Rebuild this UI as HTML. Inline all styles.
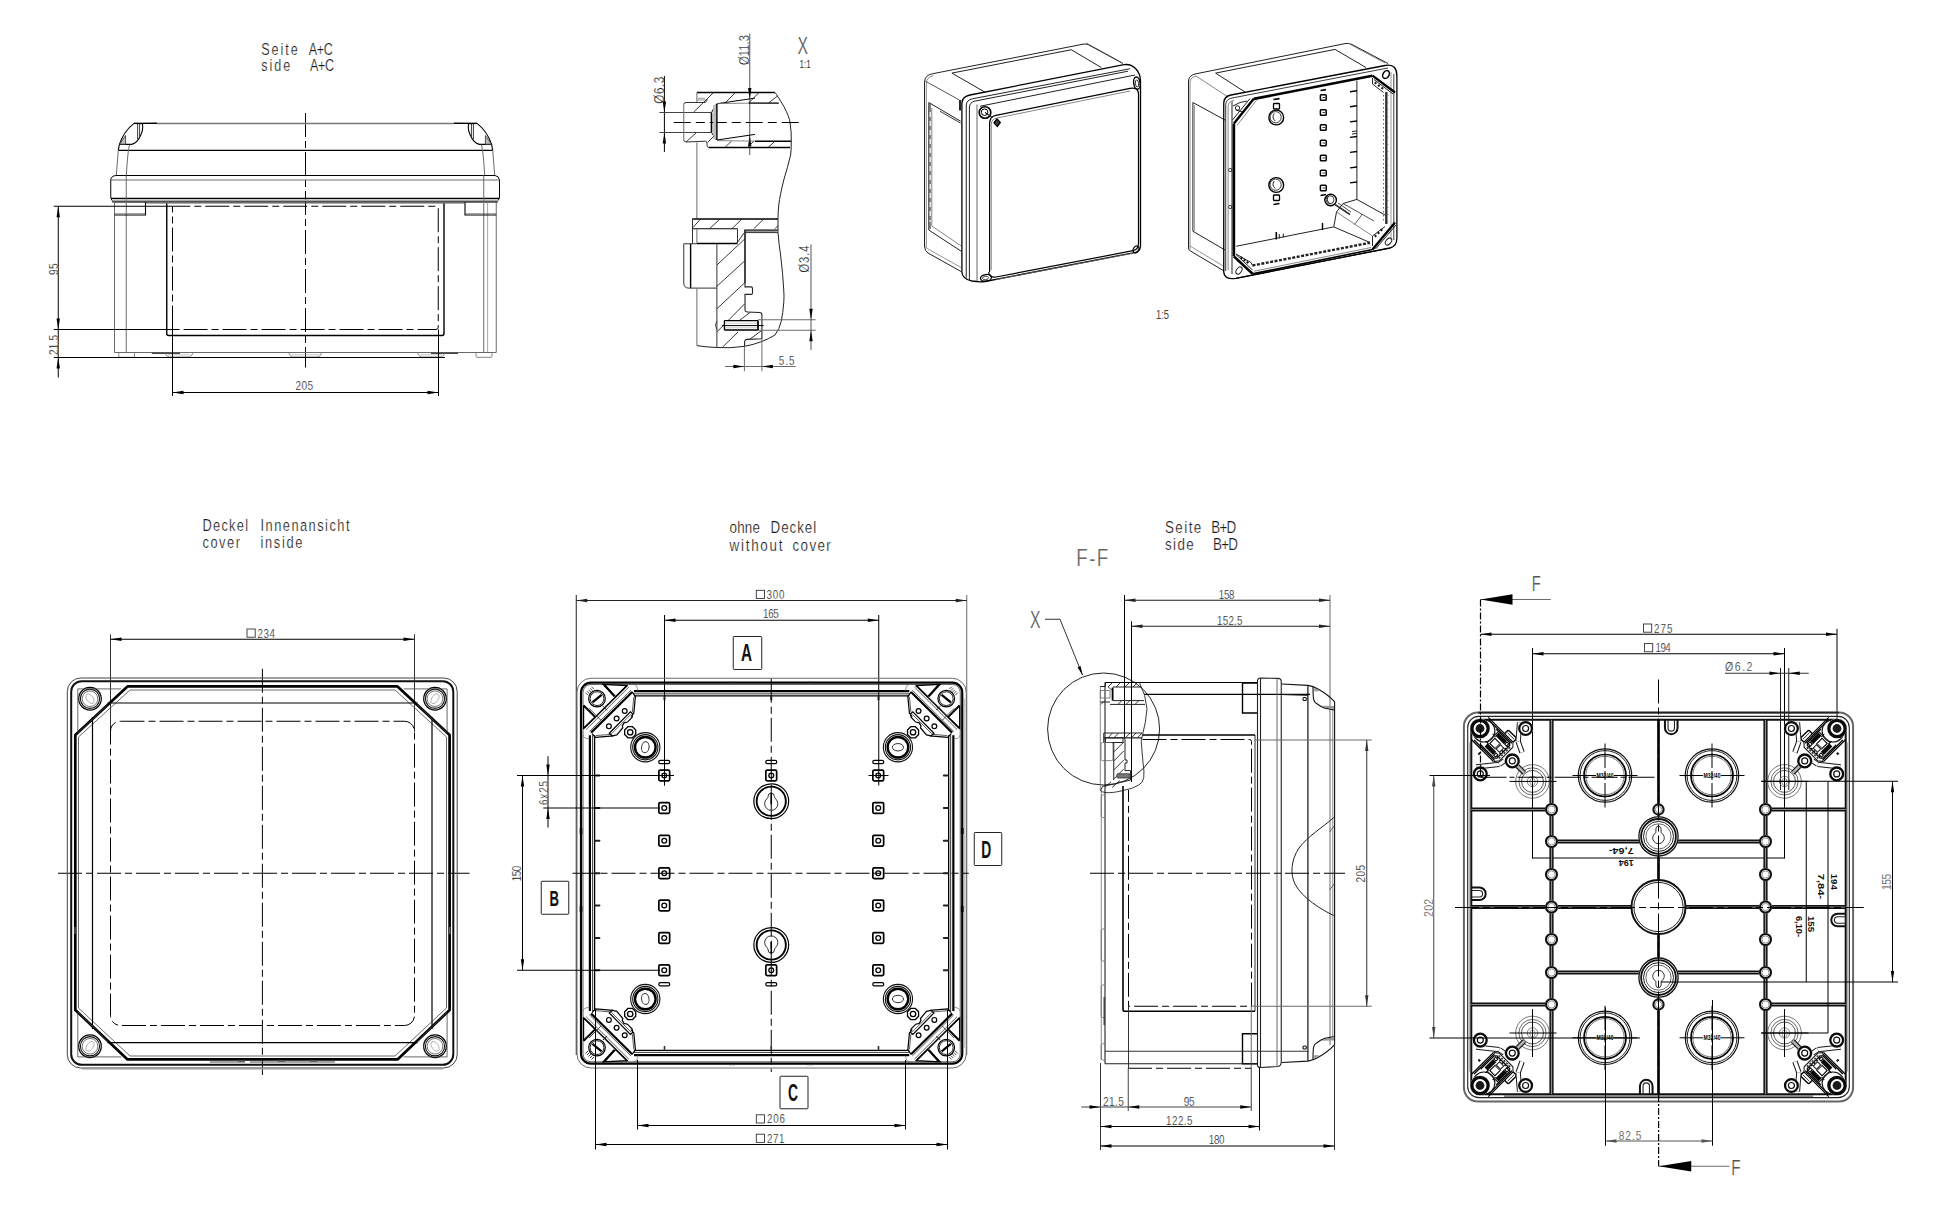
<!DOCTYPE html>
<html><head><meta charset="utf-8"><title>Drawing</title>
<style>
html,body{margin:0;padding:0;background:#fff;}
body{width:1960px;height:1232px;overflow:hidden;}
svg{display:block;font-family:"Liberation Sans","DejaVu Sans",sans-serif;}
</style></head><body>
<svg width="1960" height="1232" viewBox="0 0 1960 1232" fill="none">
<!-- view1 -->
<text transform="translate(261.25 55) scale(0.8 1)" font-size="15.71" textLength="45.62" lengthAdjust="spacing" stroke="#fff" stroke-width="0.22" fill="#1a1a1a">Seite</text>
<text transform="translate(308.75 55) scale(0.8 1)" font-size="15.71" textLength="30" lengthAdjust="spacing" stroke="#fff" stroke-width="0.22" fill="#1a1a1a">A+C</text>
<text transform="translate(261.25 71.25) scale(0.8 1)" font-size="15.71" textLength="36.25" lengthAdjust="spacing" stroke="#fff" stroke-width="0.22" fill="#1a1a1a">side</text>
<text transform="translate(310 71.25) scale(0.8 1)" font-size="15.71" textLength="30" lengthAdjust="spacing" stroke="#fff" stroke-width="0.22" fill="#1a1a1a">A+C</text>
<line x1="305.5" y1="113" x2="305.5" y2="367.5" stroke="#000" stroke-width="1" stroke-dasharray="24 4 7 4"/>
<path d="M118.3,150.4 L119.4,144.4 Q124,131 134,123.4" stroke="#000" stroke-width="1.1" fill="none"/>
<path d="M492.7,150.4 L491.6,144.4 Q487,131 477,123.4" stroke="#000" stroke-width="1.1" fill="none"/>
<line x1="134" y1="123.4" x2="157" y2="123.2" stroke="#000" stroke-width="1.4"/>
<line x1="477" y1="123.4" x2="454" y2="123.2" stroke="#000" stroke-width="1.4"/>
<line x1="157" y1="123.4" x2="454" y2="123.4" stroke="#777" stroke-width="1.5"/>
<path d="M134,123.4 L142.5,123.8 Q143.3,130 141,134.5 Q137.5,143 131.6,144.4 L119.4,144.4" stroke="#000" stroke-width="1.1" fill="none"/>
<line x1="137.6" y1="124" x2="137.6" y2="139" stroke="#222" stroke-width="0.9"/>
<line x1="139.6" y1="124" x2="139.6" y2="136.5" stroke="#222" stroke-width="0.9"/>
<path d="M119.6,144.2 L125.6,135.5 L125.6,144.2Z" stroke="#333" stroke-width="0.8" fill="#bbb"/>
<path d="M477,123.4 L468.5,123.8 Q467.7,130 470,134.5 Q473.5,143 479.4,144.4 L491.6,144.4" stroke="#000" stroke-width="1.1" fill="none"/>
<line x1="473.4" y1="124" x2="473.4" y2="139" stroke="#222" stroke-width="0.9"/>
<line x1="471.4" y1="124" x2="471.4" y2="136.5" stroke="#222" stroke-width="0.9"/>
<path d="M491.4,144.2 L485.4,135.5 L485.4,144.2Z" stroke="#333" stroke-width="0.8" fill="#bbb"/>
<line x1="118.3" y1="150.4" x2="492.7" y2="150.4" stroke="#000" stroke-width="1.4"/>
<line x1="118.3" y1="150" x2="116.3" y2="175.5" stroke="#6a6a6a" stroke-width="1"/>
<line x1="492.7" y1="150" x2="494.7" y2="175.5" stroke="#6a6a6a" stroke-width="1"/>
<path d="M129.6,144.6 Q127.8,150 126.3,175.5" stroke="#6a6a6a" stroke-width="1" fill="none"/>
<path d="M481.4,144.6 Q483.2,150 484.7,175.5" stroke="#6a6a6a" stroke-width="1" fill="none"/>
<path d="M116,175.5 L495,175.5 Q499,176 499.5,180 L499.5,197 Q499,201 496,201.75 L114,201.75 Q111,201 110.75,197 L110.75,180 Q111,176 116,175.5 Z" stroke="#000" stroke-width="1" fill="none"/>
<line x1="111" y1="180" x2="499.5" y2="180" stroke="#6a6a6a" stroke-width="1"/>
<line x1="111" y1="198.4" x2="499.5" y2="198.4" stroke="#000" stroke-width="1.4"/>
<rect x="112.5" y="199.4" width="385.5" height="2.2" stroke="none" stroke-width="0" fill="#aaa"/>
<line x1="112" y1="202" x2="498" y2="202" stroke="#222" stroke-width="1"/>
<line x1="114.5" y1="202" x2="114.5" y2="352.5" stroke="#6a6a6a" stroke-width="1"/>
<line x1="126.25" y1="175.5" x2="126.25" y2="352.5" stroke="#6a6a6a" stroke-width="1"/>
<line x1="496.25" y1="202" x2="496.25" y2="352.5" stroke="#6a6a6a" stroke-width="1"/>
<line x1="483.75" y1="175.5" x2="483.75" y2="352.5" stroke="#6a6a6a" stroke-width="1"/>
<line x1="487.6" y1="202" x2="487.6" y2="352.5" stroke="#6a6a6a" stroke-width="0.6"/>
<path d="M114.5,215 L145.5,215 L145.5,202" stroke="#000" stroke-width="1.1" fill="none"/>
<path d="M496.25,215 L465,215 L465,202" stroke="#000" stroke-width="1.1" fill="none"/>
<line x1="114.5" y1="213.5" x2="145.5" y2="213.5" stroke="#6a6a6a" stroke-width="0.6"/>
<line x1="465" y1="213.5" x2="496.25" y2="213.5" stroke="#6a6a6a" stroke-width="0.6"/>
<path d="M166.75,203 L166.75,333.5 Q166.75,335.5 168.75,335.5 L442,335.5 Q444,335.5 444,333.5 L444,203" stroke="#000" stroke-width="1.4" fill="none"/>
<line x1="145.5" y1="203.2" x2="465" y2="203.2" stroke="#6a6a6a" stroke-width="0.8"/>
<path d="M172.5,329.5 L172.5,206.25 L436,206.25 Q438.25,206.25 438.25,208.5 L438.25,327 Q438.25,329.5 436,329.5 L172.5,329.5" stroke="#000" stroke-width="1" fill="none" stroke-dasharray="24 4 7 4"/>
<line x1="114.5" y1="352.5" x2="496.25" y2="352.5" stroke="#6a6a6a" stroke-width="1"/>
<rect x="118.75" y="352.5" width="15.75" height="4.8" rx="1" ry="1" stroke="#6a6a6a" stroke-width="0.8" fill="none"/>
<rect x="476" y="352.5" width="16" height="4.8" rx="1" ry="1" stroke="#6a6a6a" stroke-width="0.8" fill="none"/>
<line x1="151.75" y1="353.3" x2="180" y2="353.3" stroke="#333" stroke-width="1.2"/>
<line x1="431" y1="353.3" x2="458" y2="353.3" stroke="#333" stroke-width="1.2"/>
<path d="M165,352.5 Q166,356.5 169,357 L189,357 Q192,356.5 193,352.5" stroke="#6a6a6a" stroke-width="0.8" fill="none"/>
<line x1="168" y1="354.8" x2="190" y2="354.8" stroke="#999" stroke-width="0.6"/>
<path d="M288.75,352.5 Q289.75,356.5 292.75,357 L317.75,357 Q320.75,356.5 321.75,352.5" stroke="#6a6a6a" stroke-width="0.8" fill="none"/>
<line x1="291.75" y1="354.8" x2="318.75" y2="354.8" stroke="#999" stroke-width="0.6"/>
<path d="M417.5,352.5 Q418.5,356.5 421.5,357 L441,357 Q444,356.5 445,352.5" stroke="#6a6a6a" stroke-width="0.8" fill="none"/>
<line x1="420.5" y1="354.8" x2="442" y2="354.8" stroke="#999" stroke-width="0.6"/>
<line x1="53.75" y1="206.25" x2="172.5" y2="206.25" stroke="#000" stroke-width="1"/>
<line x1="53.75" y1="329.5" x2="175" y2="329.5" stroke="#000" stroke-width="1"/>
<line x1="53.75" y1="357.5" x2="445" y2="357.5" stroke="#000" stroke-width="1"/>
<line x1="58.25" y1="206.25" x2="58.25" y2="329.5" stroke="#000" stroke-width="1"/>
<polygon points="58.25,206.25 59.95,217.25 56.55,217.25" fill="#000"/>
<polygon points="58.25,329.5 56.55,318.5 59.95,318.5" fill="#000"/>
<line x1="58.25" y1="329.5" x2="58.25" y2="377.5" stroke="#000" stroke-width="1"/>
<polygon points="58.25,357.5 59.95,368.5 56.55,368.5" fill="#000"/>
<text transform="translate(57.5 275) rotate(-90) scale(0.8 1)" font-size="12.57" textLength="14.38" lengthAdjust="spacing" stroke="#fff" stroke-width="0.22" fill="#1a1a1a">95</text>
<text transform="translate(57.5 355) rotate(-90) scale(0.8 1)" font-size="12.57" textLength="25" lengthAdjust="spacing" stroke="#fff" stroke-width="0.22" fill="#1a1a1a">21.5</text>
<line x1="172.5" y1="329.5" x2="172.5" y2="396" stroke="#000" stroke-width="1"/>
<line x1="438.5" y1="329.5" x2="438.5" y2="396" stroke="#000" stroke-width="1"/>
<line x1="172.5" y1="392.5" x2="438.5" y2="392.5" stroke="#000" stroke-width="1"/>
<polygon points="172.5,392.5 183.5,390.8 183.5,394.2" fill="#000"/>
<polygon points="438.5,392.5 427.5,394.2 427.5,390.8" fill="#000"/>
<text transform="translate(295.5 390) scale(0.8 1)" font-size="12.57" textLength="21.88" lengthAdjust="spacing" stroke="#fff" stroke-width="0.22" fill="#1a1a1a">205</text>
<!-- view2 -->
<text transform="translate(797.5 53.75)" font-size="23.39" textLength="10.5" lengthAdjust="spacingAndGlyphs" stroke="#fff" stroke-width="0.22" fill="#555">X</text>
<text transform="translate(799.5 68)" font-size="11.17" textLength="11.1" lengthAdjust="spacingAndGlyphs" fill="#333">1:1</text>
<text transform="translate(748.75 65) rotate(-90) scale(0.8 1)" font-size="13.97" textLength="37.5" lengthAdjust="spacing" stroke="#fff" stroke-width="0.22" fill="#222">Ø11.3</text>
<text transform="translate(663.75 103.75) rotate(-90) scale(0.8 1)" font-size="14.66" textLength="33.75" lengthAdjust="spacing" stroke="#fff" stroke-width="0.22" fill="#222">Ø6.3</text>
<text transform="translate(808.75 272.5) rotate(-90) scale(0.8 1)" font-size="13.97" textLength="33.75" lengthAdjust="spacing" stroke="#fff" stroke-width="0.22" fill="#222">Ø3.4</text>
<text transform="translate(778.75 365) scale(0.8 1)" font-size="12.22" textLength="19.62" lengthAdjust="spacing" stroke="#fff" stroke-width="0.22" fill="#222">5.5</text>
<line x1="749.75" y1="33.5" x2="749.75" y2="155" stroke="#555" stroke-width="1"/>
<polygon points="749.75,99 748.05,88 751.45,88" fill="#000"/>
<polygon points="749.75,135.3 751.45,146.3 748.05,146.3" fill="#000"/>
<line x1="664.4" y1="76" x2="664.4" y2="151.9" stroke="#000" stroke-width="1"/>
<polygon points="664.4,112.5 662.7,101.5 666.1,101.5" fill="#000"/>
<polygon points="664.4,132.5 666.1,143.5 662.7,143.5" fill="#000"/>
<line x1="659.4" y1="112.5" x2="711" y2="112.5" stroke="#444" stroke-width="1"/>
<line x1="659.4" y1="132.5" x2="711" y2="132.5" stroke="#444" stroke-width="1"/>
<line x1="673.75" y1="122.5" x2="801.25" y2="122.5" stroke="#000" stroke-width="1.1" stroke-dasharray="17 5 9 5"/>
<line x1="696.9" y1="92.5" x2="775" y2="92.5" stroke="#000" stroke-width="1.4"/>
<line x1="696.9" y1="92.5" x2="696.9" y2="102.5" stroke="#6a6a6a" stroke-width="1"/>
<line x1="697.5" y1="98.3" x2="705" y2="98.3" stroke="#6a6a6a" stroke-width="0.7"/>
<line x1="697.5" y1="100" x2="706" y2="100" stroke="#6a6a6a" stroke-width="0.7"/>
<path d="M683.75,104.5 Q683.75,102.6 686,102.5 L705.5,102.5 L707.5,99.5" stroke="#333" stroke-width="1" fill="none"/>
<line x1="683.75" y1="104.5" x2="683.75" y2="140" stroke="#6a6a6a" stroke-width="1"/>
<path d="M683.75,140 Q684,142 686,142 L705.5,141.2 Q707,141.3 707,143 L707,145.5 Q707.2,147.3 709,147.5" stroke="#333" stroke-width="1" fill="none"/>
<line x1="709" y1="147.5" x2="790" y2="147.5" stroke="#000" stroke-width="1.4"/>
<line x1="711.5" y1="112.5" x2="711.5" y2="132.5" stroke="#000" stroke-width="1.6"/>
<path d="M711.5,112.5 L716.5,104 M711.5,132.5 L716.5,140" stroke="#000" stroke-width="1" fill="none"/>
<rect x="713.2" y="105" width="3.7" height="34" stroke="none" stroke-width="0" fill="#bbb"/>
<line x1="716.9" y1="103.75" x2="716.9" y2="140" stroke="#000" stroke-width="1.4"/>
<line x1="716.9" y1="103.75" x2="755" y2="98.1" stroke="#000" stroke-width="1"/>
<line x1="716.9" y1="140" x2="755" y2="134.4" stroke="#000" stroke-width="1"/>
<line x1="716.9" y1="103.6" x2="748.75" y2="103.2" stroke="#6a6a6a" stroke-width="0.8"/>
<line x1="748.75" y1="103.1" x2="778.75" y2="103.1" stroke="#000" stroke-width="1.3"/>
<line x1="716.9" y1="140.6" x2="755" y2="141.1" stroke="#6a6a6a" stroke-width="0.8"/>
<line x1="755" y1="141.25" x2="791.25" y2="141.25" stroke="#000" stroke-width="1.3"/>
<line x1="693.75" y1="112" x2="713" y2="93" stroke="#222" stroke-width="0.9"/>
<line x1="725" y1="103" x2="735" y2="93" stroke="#222" stroke-width="0.9"/>
<line x1="748.75" y1="103" x2="758.5" y2="93" stroke="#222" stroke-width="0.9"/>
<line x1="768.5" y1="103" x2="777.5" y2="96" stroke="#222" stroke-width="0.9"/>
<line x1="686" y1="142" x2="696" y2="133" stroke="#222" stroke-width="0.9"/>
<line x1="707.5" y1="142.5" x2="713.75" y2="136.25" stroke="#222" stroke-width="0.9"/>
<line x1="725" y1="147.5" x2="731.25" y2="141.25" stroke="#222" stroke-width="0.9"/>
<line x1="747.5" y1="147.5" x2="753.75" y2="141.25" stroke="#222" stroke-width="0.9"/>
<line x1="768" y1="147.5" x2="775" y2="141.25" stroke="#222" stroke-width="0.9"/>
<path d="M775,92.5 Q777,95 783.75,106.25 Q789.5,117 790,122.5 Q791.6,132 791.25,141.25 Q791.3,150 790.6,155 Q787.5,168 783.75,180 Q780,195 778.75,205 Q778,212 778,218.75 L778,232.5 Q779,245 780.6,255 Q783,275 783.75,290 Q784.3,297 783.75,302.5 Q783,313 781.25,321.25 Q779.5,329 775,335 Q762,343 745,346.25 Q730,348.5 716.25,347.5 Q705,347 696.9,345.6" stroke="#222" stroke-width="1" fill="none"/>
<line x1="696.9" y1="142.5" x2="696.9" y2="218.75" stroke="#6a6a6a" stroke-width="1"/>
<line x1="692.25" y1="219" x2="778" y2="219" stroke="#000" stroke-width="1.4"/>
<line x1="692.5" y1="219" x2="692.5" y2="243.75" stroke="#333" stroke-width="1"/>
<line x1="692.5" y1="228.75" x2="737.5" y2="228.75" stroke="#000" stroke-width="1.2"/>
<path d="M696.9,228.75 L696.9,243.1" stroke="#6a6a6a" stroke-width="1" fill="none"/>
<line x1="737.5" y1="228.75" x2="737.5" y2="243.1" stroke="#333" stroke-width="1"/>
<line x1="696.9" y1="243.5" x2="737.5" y2="243.5" stroke="#000" stroke-width="1.4"/>
<rect x="744.4" y="230" width="33.6" height="2.5" stroke="none" stroke-width="0" fill="#999"/>
<line x1="744.4" y1="230" x2="778" y2="230" stroke="#000" stroke-width="1.2"/>
<line x1="744.4" y1="232.6" x2="778" y2="232.6" stroke="#333" stroke-width="1"/>
<line x1="745" y1="230" x2="745" y2="283" stroke="#333" stroke-width="1.8"/>
<line x1="683.75" y1="243.75" x2="696.9" y2="243.75" stroke="#333" stroke-width="1"/>
<path d="M683.75,243.75 L683.75,283 Q684,288 688.5,288.1 L716.9,288.1" stroke="#333" stroke-width="1" fill="none"/>
<line x1="690.6" y1="243.75" x2="690.6" y2="288.1" stroke="#000" stroke-width="1.4"/>
<line x1="716.9" y1="243.75" x2="716.9" y2="346.9" stroke="#333" stroke-width="1"/>
<line x1="696.9" y1="288.75" x2="696.9" y2="345.6" stroke="#6a6a6a" stroke-width="1"/>
<line x1="693" y1="227.5" x2="700" y2="219.5" stroke="#222" stroke-width="0.9"/>
<line x1="709.4" y1="228.75" x2="720" y2="219" stroke="#222" stroke-width="0.9"/>
<line x1="731.9" y1="228.75" x2="741.9" y2="219" stroke="#222" stroke-width="0.9"/>
<line x1="753.75" y1="228.75" x2="763.75" y2="219" stroke="#222" stroke-width="0.9"/>
<line x1="775" y1="228.75" x2="778" y2="225.6" stroke="#222" stroke-width="0.9"/>
<line x1="716.9" y1="265" x2="745" y2="238.75" stroke="#222" stroke-width="0.9"/>
<line x1="716.9" y1="286.25" x2="745" y2="260.6" stroke="#222" stroke-width="0.9"/>
<line x1="716.9" y1="308.75" x2="745" y2="282.5" stroke="#222" stroke-width="0.9"/>
<line x1="716.9" y1="331.9" x2="744.5" y2="304" stroke="#222" stroke-width="0.9"/>
<line x1="722.8" y1="346.9" x2="738" y2="332" stroke="#222" stroke-width="0.9"/>
<line x1="740" y1="320" x2="750" y2="312.5" stroke="#222" stroke-width="0.9"/>
<line x1="737" y1="243" x2="744" y2="233" stroke="#222" stroke-width="0.9"/>
<line x1="750" y1="339" x2="761" y2="331" stroke="#222" stroke-width="0.9"/>
<path d="M745,283 L745,286.9 L751,286.9 Q752.5,287 752.5,288.5 L752.5,293 Q752.5,294.4 751,294.4 L745,294.4 L745,310 Q745,311.9 747,312 L759.5,312.5 Q761.9,312.6 761.9,315 L761.9,338.75 L747,339.4 Q745,339.5 744.6,341.5 L744.6,346" stroke="#222" stroke-width="1.1" fill="none"/>
<rect x="724.4" y="320.6" width="33.7" height="9.4" rx="0.5" ry="0.5" stroke="#000" stroke-width="1.3" fill="#fff"/>
<line x1="725" y1="323.2" x2="757" y2="323.2" stroke="#999" stroke-width="0.5"/>
<line x1="725" y1="327.8" x2="757" y2="327.8" stroke="#999" stroke-width="0.5"/>
<line x1="721.9" y1="325.6" x2="763.75" y2="325.6" stroke="#000" stroke-width="1"/>
<line x1="758" y1="321" x2="758" y2="330" stroke="#000" stroke-width="1.4"/>
<path d="M716.9,321 Q714,325 716.9,329.5" stroke="#333" stroke-width="0.9" fill="none"/>
<line x1="811" y1="244.4" x2="811" y2="350" stroke="#555" stroke-width="1"/>
<line x1="758" y1="319.75" x2="815.6" y2="319.75" stroke="#6a6a6a" stroke-width="1"/>
<line x1="758" y1="330.25" x2="815.6" y2="330.25" stroke="#6a6a6a" stroke-width="1"/>
<polygon points="811,319.75 809.3,308.75 812.7,308.75" fill="#000"/>
<polygon points="811,330.25 812.7,341.25 809.3,341.25" fill="#000"/>
<line x1="744.4" y1="346" x2="744.4" y2="371.25" stroke="#6a6a6a" stroke-width="1"/>
<line x1="761.9" y1="338.75" x2="761.9" y2="371.25" stroke="#6a6a6a" stroke-width="1"/>
<line x1="725" y1="366.5" x2="795.6" y2="366.5" stroke="#6a6a6a" stroke-width="1"/>
<polygon points="744.4,366.5 733.4,368.2 733.4,364.8" fill="#000"/>
<polygon points="761.9,366.5 772.9,364.8 772.9,368.2" fill="#000"/>
<!-- view3a -->
<path d="M924.5,246 L924.5,82 Q924.8,75 932.5,73.75 L1083,44.2 Q1086,43.5 1088.5,44.8 L1123,63.5" stroke="#222" stroke-width="1" fill="none"/>
<path d="M926.3,248 L926.3,83 Q926.6,77 933.5,75.6" stroke="#6a6a6a" stroke-width="0.8" fill="none"/>
<path d="M924.5,246 Q924.6,251 928,253 L961,271.5" stroke="#222" stroke-width="1" fill="none"/>
<path d="M926.3,248 L961,267.5" stroke="#6a6a6a" stroke-width="0.7" fill="none"/>
<path d="M985,92.2 L951.9,73.1 L1071.25,49.75 L1101.25,67.5" stroke="#222" stroke-width="1" fill="none"/>
<line x1="925.5" y1="81.25" x2="959.4" y2="100" stroke="#444" stroke-width="0.9"/>
<line x1="1086.5" y1="43.2" x2="1121.5" y2="62.5" stroke="#444" stroke-width="0.8"/>
<path d="M960.6,121.25 L928.75,102.5 L928.75,230 L961.25,251.25" stroke="#222" stroke-width="1" fill="none"/>
<line x1="929.8" y1="104" x2="929.8" y2="229" stroke="#777" stroke-width="2.2"/>
<path d="M960.6,123.1 L940,111.25" stroke="#222" stroke-width="0.9" fill="none"/>
<path d="M931.8,108 L931.8,226 L961.25,246" stroke="#6a6a6a" stroke-width="0.8" fill="none"/>
<line x1="930.2" y1="112" x2="930.2" y2="222" stroke="#fff" stroke-width="1.2" stroke-dasharray="5 4"/>
<path d="M961.9,272 L961.9,103 Q962.2,96.5 970,95 L1124,64.7 Q1131,63.5 1136,69 Q1140.5,74 1140.5,81 L1140.5,246 Q1140,251.5 1136,252.3 L985,281.5 Q980,282.3 972,281 Q962.2,279 961.9,272" stroke="#000" stroke-width="1.3" fill="none"/>
<line x1="960" y1="100" x2="960" y2="110.5" stroke="#111" stroke-width="1.8"/>
<path d="M966.25,277.5 L966.25,105 Q966.6,100 972.5,98.75" stroke="#222" stroke-width="1" fill="none"/>
<path d="M969.4,280 L969.4,107 Q969.8,102.5 974.5,101.2" stroke="#222" stroke-width="1" fill="none"/>
<line x1="977" y1="104.5" x2="977" y2="280.8" stroke="#555" stroke-width="0.9"/>
<line x1="972.5" y1="98.75" x2="1130" y2="68.75" stroke="#222" stroke-width="1"/>
<line x1="974.5" y1="101.2" x2="1128" y2="71.2" stroke="#222" stroke-width="1"/>
<line x1="980" y1="106.25" x2="1135" y2="75" stroke="#222" stroke-width="1"/>
<path d="M989.6,272 L989.6,123 Q989.8,116.5 996,115.3 L1130,88.3 Q1138.3,87 1138.5,94 L1138.5,243 Q1138.5,249.5 1133,250.7 L996,277 Q989,278 988.75,272" stroke="#000" stroke-width="1.2" fill="none"/>
<path d="M991.25,270 L991.25,124 Q991.5,119 997,118 L1130,91" stroke="#6a6a6a" stroke-width="0.8" fill="none"/>
<line x1="996" y1="279.5" x2="1137" y2="252.5" stroke="#6a6a6a" stroke-width="0.8"/>
<circle cx="985" cy="112.5" r="5.8" stroke="#000" stroke-width="1.6" fill="none"/>
<circle cx="984.6" cy="112.2" r="3.3" stroke="#000" stroke-width="1" fill="none"/>
<line x1="985" y1="112.5" x2="992.5" y2="117.5" stroke="#222" stroke-width="1.2"/>
<ellipse cx="1136.9" cy="83.1" rx="3.2" ry="6.2" stroke="#000" stroke-width="1.4" fill="none" transform="rotate(-8 1136.9 83.1)"/>
<ellipse cx="1137" cy="83.5" rx="1.6" ry="3.6" stroke="#222" stroke-width="0.9" fill="none" transform="rotate(-8 1137 83.5)"/>
<ellipse cx="986" cy="277.8" rx="5.5" ry="3.3" stroke="#000" stroke-width="1.3" fill="none" transform="rotate(-8 986 277.8)"/>
<ellipse cx="985.5" cy="278" rx="3" ry="1.7" stroke="#222" stroke-width="0.8" fill="none" transform="rotate(-8 985.5 278)"/>
<ellipse cx="1136" cy="249.3" rx="2.6" ry="3.6" stroke="#000" stroke-width="1.2" fill="none" transform="rotate(30 1136 249.3)"/>
<path d="M997,119 L1000.3,122.5 L997.3,126.5 L994,122.8Z" stroke="#000" stroke-width="1.3" fill="#444"/>
<text transform="translate(1156 319)" font-size="12.57" textLength="13" lengthAdjust="spacingAndGlyphs" fill="#444">1:5</text>
<!-- view3b -->
<path d="M1188.5,248.75 L1188.5,81 Q1188.8,75.5 1195,74 L1345,43.6 Q1348.75,42.8 1352,44.5 L1388,63.5" stroke="#222" stroke-width="1" fill="none"/>
<path d="M1190,249.5 L1190,82 Q1190.3,77.5 1196,76" stroke="#6a6a6a" stroke-width="0.8" fill="none"/>
<path d="M1188.5,248.75 Q1188.8,250 1190.5,251 L1224,271" stroke="#222" stroke-width="1" fill="none"/>
<line x1="1190" y1="246" x2="1224" y2="266.5" stroke="#6a6a6a" stroke-width="0.7"/>
<path d="M1245,92 L1215.6,73.1 L1335,49.4 L1366,67.5" stroke="#222" stroke-width="1" fill="none"/>
<line x1="1196" y1="76" x2="1228" y2="97" stroke="#6a6a6a" stroke-width="0.8"/>
<line x1="1350" y1="44.3" x2="1385" y2="63" stroke="#6a6a6a" stroke-width="0.8"/>
<path d="M1225,120 L1192.9,102.5 L1192.9,231.25 L1225,250" stroke="#222" stroke-width="1" fill="none"/>
<line x1="1194.4" y1="105" x2="1194.4" y2="231" stroke="#6a6a6a" stroke-width="0.7"/>
<path d="M1223.75,272 L1223.75,103 Q1224,96.3 1231,95 L1385,65.5 Q1391.5,64.3 1394.5,67.5 Q1396.9,70.5 1396.9,76 L1396.9,238 Q1396.8,246.5 1390,248 L1236,278.3 Q1224.3,280 1223.75,272" stroke="#000" stroke-width="1.3" fill="none"/>
<path d="M1225.7,271 L1225.7,104.5 Q1226,99 1232,98 L1388,68" stroke="#222" stroke-width="0.9" fill="none"/>
<path d="M1228.1,270 L1228.1,106 Q1228.4,101.5 1234,100.5" stroke="#6a6a6a" stroke-width="0.8" fill="none"/>
<line x1="1232" y1="101.5" x2="1232" y2="274" stroke="#222" stroke-width="1"/>
<line x1="1393.8" y1="74" x2="1393.8" y2="240" stroke="#222" stroke-width="0.9"/>
<line x1="1391" y1="72" x2="1391" y2="240" stroke="#6a6a6a" stroke-width="0.7"/>
<line x1="1233.9" y1="124" x2="1233.9" y2="256" stroke="#000" stroke-width="2.6"/>
<line x1="1253.75" y1="98.9" x2="1372.5" y2="75.7" stroke="#000" stroke-width="2.6"/>
<line x1="1386.3" y1="92" x2="1386.3" y2="224" stroke="#333" stroke-width="2.4"/>
<line x1="1252.5" y1="273.9" x2="1372.5" y2="249.5" stroke="#000" stroke-width="1.6"/>
<line x1="1254" y1="271.2" x2="1371" y2="247.5" stroke="#6a6a6a" stroke-width="0.8"/>
<line x1="1252.5" y1="265.5" x2="1370" y2="242.8" stroke="#222" stroke-width="2.4" stroke-dasharray="3 1.5"/>
<line x1="1236" y1="278.3" x2="1390" y2="248" stroke="#000" stroke-width="1"/>
<line x1="1253.75" y1="98.75" x2="1233.75" y2="123.75" stroke="#000" stroke-width="2.4"/>
<line x1="1250" y1="98.5" x2="1232.5" y2="120" stroke="#222" stroke-width="1"/>
<path d="M1233,106 L1240,102.5 L1247,101" stroke="#222" stroke-width="1" fill="none"/>
<path d="M1236,110 L1243,112" stroke="#222" stroke-width="1.2" fill="none"/>
<circle cx="1237.5" cy="108" r="2.2" stroke="#222" stroke-width="1" fill="none"/>
<line x1="1257" y1="99.5" x2="1237" y2="125.5" stroke="#6a6a6a" stroke-width="0.8"/>
<line x1="1372.5" y1="75.6" x2="1395" y2="92.5" stroke="#000" stroke-width="2.4"/>
<line x1="1374" y1="79.5" x2="1393" y2="94" stroke="#222" stroke-width="1"/>
<ellipse cx="1386" cy="74.5" rx="3" ry="4.2" stroke="#000" stroke-width="1.5" fill="none" transform="rotate(30 1386 74.5)"/>
<path d="M1372.5,78 L1372.5,84 L1383.5,92.5" stroke="#222" stroke-width="1" fill="none"/>
<circle cx="1375.5" cy="83" r="0.8" stroke="#000" stroke-width="0.8" fill="#000"/>
<circle cx="1378.9" cy="85.6" r="0.8" stroke="#000" stroke-width="0.8" fill="#000"/>
<circle cx="1382.3" cy="88.2" r="0.8" stroke="#000" stroke-width="0.8" fill="#000"/>
<line x1="1233.75" y1="256.25" x2="1252.5" y2="273.75" stroke="#000" stroke-width="2.4"/>
<line x1="1236" y1="254.5" x2="1252.5" y2="270" stroke="#222" stroke-width="1"/>
<path d="M1236,254 L1251,262.5 L1252.5,265.5" stroke="#222" stroke-width="1" fill="none"/>
<circle cx="1241.5" cy="258" r="0.8" stroke="#000" stroke-width="0.8" fill="#000"/>
<circle cx="1244.5" cy="260.2" r="0.8" stroke="#000" stroke-width="0.8" fill="#000"/>
<circle cx="1247.5" cy="262.4" r="0.8" stroke="#000" stroke-width="0.8" fill="#000"/>
<ellipse cx="1239" cy="270.5" rx="2.5" ry="4" stroke="#222" stroke-width="1" fill="none" transform="rotate(35 1239 270.5)"/>
<line x1="1372.5" y1="249.4" x2="1395" y2="222.5" stroke="#000" stroke-width="2.4"/>
<line x1="1375.5" y1="249" x2="1396" y2="225" stroke="#222" stroke-width="1"/>
<path d="M1372.5,246 L1372.5,236 L1385,226.5" stroke="#222" stroke-width="1" fill="none"/>
<circle cx="1375.5" cy="236" r="0.8" stroke="#000" stroke-width="0.8" fill="#000"/>
<circle cx="1378.5" cy="233" r="0.8" stroke="#000" stroke-width="0.8" fill="#000"/>
<circle cx="1381.5" cy="230" r="0.8" stroke="#000" stroke-width="0.8" fill="#000"/>
<ellipse cx="1388.5" cy="241.5" rx="2.5" ry="4" stroke="#222" stroke-width="1" fill="none" transform="rotate(40 1388.5 241.5)"/>
<line x1="1356.9" y1="80.6" x2="1356.9" y2="199.4" stroke="#222" stroke-width="1"/>
<line x1="1236.25" y1="246.25" x2="1333.75" y2="226.9" stroke="#222" stroke-width="1"/>
<path d="M1356.9,199.4 L1343,203.5 L1336.5,212 L1333.75,226.9 L1370,242.5" stroke="#222" stroke-width="1" fill="none"/>
<line x1="1356.9" y1="199.4" x2="1385" y2="215" stroke="#222" stroke-width="1"/>
<line x1="1343" y1="203.5" x2="1374" y2="221" stroke="#222" stroke-width="0.8"/>
<line x1="1362.5" y1="214" x2="1354.5" y2="224.5" stroke="#222" stroke-width="0.7"/>
<line x1="1336.5" y1="212" x2="1372.5" y2="236" stroke="#6a6a6a" stroke-width="0.8"/>
<circle cx="1276.25" cy="117.5" r="7.4" stroke="#000" stroke-width="1.4" fill="none"/>
<circle cx="1275.65" cy="117.2" r="5.6" stroke="#222" stroke-width="0.9" fill="none"/>
<path d="M1274.25,113.5 Q1271.25,117.5 1275.25,121" stroke="#222" stroke-width="1" fill="none"/>
<circle cx="1276.25" cy="185" r="7.4" stroke="#000" stroke-width="1.4" fill="none"/>
<circle cx="1275.65" cy="184.7" r="5.6" stroke="#222" stroke-width="0.9" fill="none"/>
<path d="M1274.25,181 Q1271.25,185 1275.25,188.5" stroke="#222" stroke-width="1" fill="none"/>
<circle cx="1330.6" cy="200" r="5.8" stroke="#000" stroke-width="1.4" fill="none"/>
<circle cx="1330" cy="199.7" r="4" stroke="#222" stroke-width="0.9" fill="none"/>
<path d="M1328.6,196 Q1325.6,200 1329.6,203.5" stroke="#222" stroke-width="1" fill="none"/>
<line x1="1335" y1="204.5" x2="1350" y2="214.5" stroke="#333" stroke-width="1.6"/>
<line x1="1338" y1="203" x2="1351" y2="212" stroke="#222" stroke-width="0.8"/>
<rect x="1320.4" y="94.7" width="5.8" height="5.6" rx="0.8" ry="0.8" stroke="#000" stroke-width="1.5" fill="none"/>
<line x1="1322.5" y1="97.5" x2="1325" y2="97.5" stroke="#222" stroke-width="0.9"/>
<rect x="1320.4" y="109.7" width="5.8" height="5.6" rx="0.8" ry="0.8" stroke="#000" stroke-width="1.5" fill="none"/>
<line x1="1322.5" y1="112.5" x2="1325" y2="112.5" stroke="#222" stroke-width="0.9"/>
<rect x="1320.4" y="124.7" width="5.8" height="5.6" rx="0.8" ry="0.8" stroke="#000" stroke-width="1.5" fill="none"/>
<line x1="1322.5" y1="127.5" x2="1325" y2="127.5" stroke="#222" stroke-width="0.9"/>
<rect x="1320.4" y="140.2" width="5.8" height="5.6" rx="0.8" ry="0.8" stroke="#000" stroke-width="1.5" fill="none"/>
<line x1="1322.5" y1="143" x2="1325" y2="143" stroke="#222" stroke-width="0.9"/>
<rect x="1320.4" y="155.2" width="5.8" height="5.6" rx="0.8" ry="0.8" stroke="#000" stroke-width="1.5" fill="none"/>
<line x1="1322.5" y1="158" x2="1325" y2="158" stroke="#222" stroke-width="0.9"/>
<rect x="1320.4" y="170.2" width="5.8" height="5.6" rx="0.8" ry="0.8" stroke="#000" stroke-width="1.5" fill="none"/>
<line x1="1322.5" y1="173" x2="1325" y2="173" stroke="#222" stroke-width="0.9"/>
<rect x="1320.4" y="185.2" width="5.8" height="5.6" rx="0.8" ry="0.8" stroke="#000" stroke-width="1.5" fill="none"/>
<line x1="1322.5" y1="188" x2="1325" y2="188" stroke="#222" stroke-width="0.9"/>
<line x1="1320.5" y1="90.5" x2="1326" y2="89.6" stroke="#000" stroke-width="1.6"/>
<line x1="1320.5" y1="195.5" x2="1326" y2="194.5" stroke="#000" stroke-width="1.6"/>
<rect x="1273.5" y="103.5" width="6" height="5.5" rx="0.8" ry="0.8" stroke="#000" stroke-width="1.3" fill="none"/>
<line x1="1273.5" y1="99.5" x2="1279.5" y2="98.6" stroke="#000" stroke-width="1.6"/>
<rect x="1273.5" y="195" width="6" height="5.5" rx="0.8" ry="0.8" stroke="#000" stroke-width="1.3" fill="none"/>
<line x1="1273.5" y1="204.5" x2="1279.5" y2="203.5" stroke="#000" stroke-width="1.6"/>
<line x1="1350" y1="91.7" x2="1357" y2="90.8" stroke="#000" stroke-width="1.4"/>
<line x1="1350" y1="106.7" x2="1357" y2="105.8" stroke="#000" stroke-width="1.4"/>
<line x1="1350" y1="121.9" x2="1357" y2="121" stroke="#000" stroke-width="1.4"/>
<line x1="1350" y1="137.4" x2="1357" y2="136.5" stroke="#000" stroke-width="1.4"/>
<line x1="1350" y1="152.4" x2="1357" y2="151.5" stroke="#000" stroke-width="1.4"/>
<line x1="1350" y1="167.9" x2="1357" y2="167" stroke="#000" stroke-width="1.4"/>
<line x1="1350" y1="182.9" x2="1357" y2="182" stroke="#000" stroke-width="1.4"/>
<line x1="1352" y1="131.5" x2="1357" y2="131" stroke="#222" stroke-width="1"/>
<line x1="1352" y1="134" x2="1357" y2="133.4" stroke="#222" stroke-width="1"/>
<line x1="1276.3" y1="232" x2="1276.3" y2="239.5" stroke="#000" stroke-width="1.6"/>
<line x1="1279.3" y1="234" x2="1279.3" y2="238.5" stroke="#222" stroke-width="1"/>
<line x1="1283.3" y1="233.5" x2="1283.3" y2="237.5" stroke="#222" stroke-width="1"/>
<line x1="1322.5" y1="223" x2="1322.5" y2="230" stroke="#000" stroke-width="1.4"/>
<line x1="1383.5" y1="95" x2="1383.5" y2="222" stroke="#444" stroke-width="0.8" stroke-dasharray="1.5 2.5"/>
<line x1="1388" y1="95" x2="1388" y2="222" stroke="#666" stroke-width="0.7" stroke-dasharray="1 6"/>
<rect x="1228.8" y="168.5" width="2.7" height="3" rx="0.5" ry="0.5" stroke="#222" stroke-width="0.8" fill="none"/>
<rect x="1228.8" y="205.5" width="2.7" height="3" rx="0.5" ry="0.5" stroke="#222" stroke-width="0.8" fill="none"/>
<!-- view4 -->
<text transform="translate(202.5 530.75) scale(0.8 1)" font-size="16.06" textLength="56.88" lengthAdjust="spacing" stroke="#fff" stroke-width="0.22" fill="#1a1a1a">Deckel</text>
<text transform="translate(260.5 530.75) scale(0.8 1)" font-size="16.06" textLength="111.25" lengthAdjust="spacing" stroke="#fff" stroke-width="0.22" fill="#1a1a1a">Innenansicht</text>
<text transform="translate(202.5 547.5) scale(0.8 1)" font-size="16.06" textLength="46.88" lengthAdjust="spacing" stroke="#fff" stroke-width="0.22" fill="#1a1a1a">cover</text>
<text transform="translate(260.5 547.5) scale(0.8 1)" font-size="16.06" textLength="52.5" lengthAdjust="spacing" stroke="#fff" stroke-width="0.22" fill="#1a1a1a">inside</text>
<line x1="110.5" y1="634.25" x2="110.5" y2="732" stroke="#333" stroke-width="1"/>
<line x1="414.5" y1="634.25" x2="414.5" y2="732" stroke="#333" stroke-width="1"/>
<line x1="110.5" y1="639.25" x2="414.5" y2="639.25" stroke="#000" stroke-width="1"/>
<polygon points="110.5,639.25 121.5,637.55 121.5,640.95" fill="#000"/>
<polygon points="414.5,639.25 403.5,640.95 403.5,637.55" fill="#000"/>
<rect x="247" y="629" width="8.2" height="8.2" stroke="#333" stroke-width="0.9" fill="none"/>
<text transform="translate(257.5 637.5) scale(0.8 1)" font-size="12.22" textLength="21.88" lengthAdjust="spacing" stroke="#fff" stroke-width="0.22" fill="#1a1a1a">234</text>
<line x1="262.4" y1="668.75" x2="262.4" y2="1075" stroke="#000" stroke-width="1" stroke-dasharray="24 4 7 4"/>
<line x1="58" y1="873.25" x2="469.5" y2="873.25" stroke="#000" stroke-width="1" stroke-dasharray="24 4 7 4"/>
<rect x="67.3" y="678" width="389.9" height="390" rx="13.5" ry="13.5" stroke="#444" stroke-width="1" fill="none"/>
<line x1="82" y1="1068.6" x2="443" y2="1068.6" stroke="#999" stroke-width="1.6"/>
<rect x="71.2" y="681.2" width="382.1" height="383.6" rx="10.5" ry="10.5" stroke="#111" stroke-width="2" fill="none"/>
<path d="M127.5,686.4 L397.5,686.4 L449.6,735 L449.6,1010 L397.5,1059.4 L127.5,1059.4 L75.3,1010 L75.3,735 Z" stroke="#000" stroke-width="2.7" fill="none" stroke-linejoin="round"/>
<path d="M130,690 L395,690 L446.5,737 L446.5,1008 L395,1056 L130,1056 L78.5,1008 L78.5,737 Z" stroke="#444" stroke-width="0.8" fill="none"/>
<line x1="107.5" y1="703" x2="417.5" y2="703" stroke="#000" stroke-width="1.2"/>
<line x1="107.5" y1="1042.6" x2="417.5" y2="1042.6" stroke="#000" stroke-width="1.2"/>
<line x1="92.5" y1="717" x2="92.5" y2="1029" stroke="#000" stroke-width="1.2"/>
<line x1="432" y1="717" x2="432" y2="1029" stroke="#000" stroke-width="1.2"/>
<line x1="108" y1="704.5" x2="78" y2="733" stroke="#444" stroke-width="0.8"/>
<line x1="417" y1="704.5" x2="447" y2="733" stroke="#444" stroke-width="0.8"/>
<line x1="108" y1="1041.5" x2="78" y2="1012" stroke="#444" stroke-width="0.8"/>
<line x1="417" y1="1041.5" x2="447" y2="1012" stroke="#444" stroke-width="0.8"/>
<rect x="110.5" y="721.25" width="304" height="304.25" rx="10" ry="10" stroke="#000" stroke-width="1" fill="none" stroke-dasharray="24 4 7 4"/>
<circle cx="90" cy="698.75" r="11.3" stroke="#000" stroke-width="1.2" fill="none"/>
<circle cx="90" cy="698.75" r="9.6" stroke="#111" stroke-width="1.1" fill="none"/>
<circle cx="90" cy="698.75" r="7.8" stroke="#555" stroke-width="0.8" fill="none"/>
<ellipse cx="90" cy="698.75" rx="3.2" ry="5.5" stroke="#888" stroke-width="0.6" fill="none" transform="rotate(-35 90 698.75)"/>
<circle cx="435" cy="698.75" r="11.3" stroke="#000" stroke-width="1.2" fill="none"/>
<circle cx="435" cy="698.75" r="9.6" stroke="#111" stroke-width="1.1" fill="none"/>
<circle cx="435" cy="698.75" r="7.8" stroke="#555" stroke-width="0.8" fill="none"/>
<ellipse cx="435" cy="698.75" rx="3.2" ry="5.5" stroke="#888" stroke-width="0.6" fill="none" transform="rotate(35 435 698.75)"/>
<circle cx="90" cy="1046.25" r="11.3" stroke="#000" stroke-width="1.2" fill="none"/>
<circle cx="90" cy="1046.25" r="9.6" stroke="#111" stroke-width="1.1" fill="none"/>
<circle cx="90" cy="1046.25" r="7.8" stroke="#555" stroke-width="0.8" fill="none"/>
<ellipse cx="90" cy="1046.25" rx="3.2" ry="5.5" stroke="#888" stroke-width="0.6" fill="none" transform="rotate(35 90 1046.25)"/>
<circle cx="435" cy="1046.25" r="11.3" stroke="#000" stroke-width="1.2" fill="none"/>
<circle cx="435" cy="1046.25" r="9.6" stroke="#111" stroke-width="1.1" fill="none"/>
<circle cx="435" cy="1046.25" r="7.8" stroke="#555" stroke-width="0.8" fill="none"/>
<ellipse cx="435" cy="1046.25" rx="3.2" ry="5.5" stroke="#888" stroke-width="0.6" fill="none" transform="rotate(-35 435 1046.25)"/>
<path d="M77.8,732.4 L77.8,688.9 L121.3,688.9" stroke="#444" stroke-width="0.8" fill="none"/>
<path d="M447.1,732.4 L447.1,688.9 L403.6,688.9" stroke="#444" stroke-width="0.8" fill="none"/>
<path d="M77.8,1013.4 L77.8,1056.9 L121.3,1056.9" stroke="#444" stroke-width="0.8" fill="none"/>
<path d="M447.1,1013.4 L447.1,1056.9 L403.6,1056.9" stroke="#444" stroke-width="0.8" fill="none"/>
<line x1="210" y1="1062" x2="245" y2="1062" stroke="#333" stroke-width="0.9"/>
<line x1="250" y1="1062" x2="335" y2="1062" stroke="#333" stroke-width="0.9"/>
<line x1="238" y1="1061" x2="245" y2="1061" stroke="#555" stroke-width="1.6"/>
<line x1="278" y1="1061" x2="285" y2="1061" stroke="#555" stroke-width="1.6"/>
<line x1="310" y1="1061" x2="317" y2="1061" stroke="#555" stroke-width="1.6"/>
<line x1="75" y1="927" x2="75" y2="934" stroke="#555" stroke-width="1.5"/>
<line x1="449.8" y1="927" x2="449.8" y2="934" stroke="#777" stroke-width="1.2"/>
<!-- view5 -->
<text transform="translate(729.5 533) scale(0.8 1)" font-size="16.76" textLength="38.12" lengthAdjust="spacing" stroke="#fff" stroke-width="0.22" fill="#1a1a1a">ohne</text>
<text transform="translate(770.5 533) scale(0.8 1)" font-size="16.76" textLength="57.19" lengthAdjust="spacing" stroke="#fff" stroke-width="0.22" fill="#1a1a1a">Deckel</text>
<text transform="translate(729.5 550.75) scale(0.8 1)" font-size="16.76" textLength="66.25" lengthAdjust="spacing" stroke="#fff" stroke-width="0.22" fill="#1a1a1a">without</text>
<text transform="translate(792.5 550.75) scale(0.8 1)" font-size="16.76" textLength="47.81" lengthAdjust="spacing" stroke="#fff" stroke-width="0.22" fill="#1a1a1a">cover</text>
<line x1="576.25" y1="595" x2="576.25" y2="1055" stroke="#222" stroke-width="1"/>
<line x1="966.75" y1="595" x2="966.75" y2="1055" stroke="#6a6a6a" stroke-width="1"/>
<line x1="576.25" y1="600.5" x2="966.75" y2="600.5" stroke="#222" stroke-width="1"/>
<polygon points="576.25,600.5 587.25,598.8 587.25,602.2" fill="#222"/>
<polygon points="966.75,600.5 955.75,602.2 955.75,598.8" fill="#222"/>
<rect x="756.3" y="590.3" width="8.2" height="8.2" stroke="#333" stroke-width="0.9" fill="none"/>
<text transform="translate(766.5 598.75) scale(0.8 1)" font-size="12.22" textLength="22.5" lengthAdjust="spacing" stroke="#fff" stroke-width="0.22" fill="#1a1a1a">300</text>
<line x1="664.5" y1="615" x2="664.5" y2="785.5" stroke="#000" stroke-width="1"/>
<line x1="878.75" y1="615" x2="878.75" y2="785.5" stroke="#000" stroke-width="1"/>
<line x1="664.5" y1="620.25" x2="878.75" y2="620.25" stroke="#000" stroke-width="1"/>
<polygon points="664.5,620.25 675.5,618.55 675.5,621.95" fill="#000"/>
<polygon points="878.75,620.25 867.75,621.95 867.75,618.55" fill="#000"/>
<text transform="translate(763 618.25) scale(0.8 1)" font-size="12.22" textLength="19.69" lengthAdjust="spacing" stroke="#fff" stroke-width="0.22" fill="#1a1a1a">165</text>
<rect x="733.25" y="636.5" width="28.5" height="33" rx="0.8" ry="0.8" stroke="#222" stroke-width="1" fill="none"/>
<text transform="translate(741 661)" font-size="23.04" textLength="11" lengthAdjust="spacingAndGlyphs" font-weight="bold" fill="#111">A</text>
<rect x="541.25" y="881.25" width="27.5" height="33" rx="0.8" ry="0.8" stroke="#222" stroke-width="1" fill="none"/>
<text transform="translate(549.5 906)" font-size="22.35" textLength="9.5" lengthAdjust="spacingAndGlyphs" font-weight="bold" fill="#111">B</text>
<rect x="780" y="1076.25" width="28" height="32.5" rx="0.8" ry="0.8" stroke="#222" stroke-width="1" fill="none"/>
<text transform="translate(788 1100.75)" font-size="23.74" textLength="10" lengthAdjust="spacingAndGlyphs" font-weight="bold" fill="#111">C</text>
<rect x="974.25" y="832.5" width="27.5" height="33" rx="0.8" ry="0.8" stroke="#222" stroke-width="1" fill="none"/>
<text transform="translate(981.25 857.5)" font-size="23.39" textLength="10" lengthAdjust="spacingAndGlyphs" font-weight="bold" fill="#111">D</text>
<rect x="577" y="678.25" width="389.25" height="389.75" rx="14" ry="14" stroke="#6a6a6a" stroke-width="1" fill="none"/>
<rect x="581" y="682.55" width="381.25" height="381.15" rx="10" ry="10" stroke="#000" stroke-width="2.2" fill="none"/>
<rect x="583" y="684.45" width="377.25" height="377.35" rx="8" ry="8" stroke="#333" stroke-width="0.8" fill="none"/>
<line x1="634" y1="691.15" x2="909.25" y2="691.15" stroke="#000" stroke-width="2.2"/>
<line x1="634" y1="1055.1" x2="909.25" y2="1055.1" stroke="#000" stroke-width="2.2"/>
<line x1="589.9" y1="735.25" x2="589.9" y2="1011" stroke="#000" stroke-width="2.2"/>
<line x1="953.35" y1="735.25" x2="953.35" y2="1011" stroke="#000" stroke-width="2.2"/>
<line x1="634" y1="693.85" x2="909.25" y2="693.85" stroke="#222" stroke-width="0.9"/>
<line x1="634" y1="1052.4" x2="909.25" y2="1052.4" stroke="#222" stroke-width="0.9"/>
<line x1="592.6" y1="735.25" x2="592.6" y2="1011" stroke="#222" stroke-width="0.9"/>
<line x1="950.65" y1="735.25" x2="950.65" y2="1011" stroke="#222" stroke-width="0.9"/>
<line x1="634" y1="695.85" x2="909.25" y2="695.85" stroke="#000" stroke-width="1.3"/>
<line x1="634" y1="1050.4" x2="909.25" y2="1050.4" stroke="#000" stroke-width="1.3"/>
<line x1="594.6" y1="735.25" x2="594.6" y2="1011" stroke="#000" stroke-width="1.3"/>
<line x1="948.65" y1="735.25" x2="948.65" y2="1011" stroke="#000" stroke-width="1.3"/>
<line x1="964.45" y1="698.25" x2="964.45" y2="1048" stroke="#999" stroke-width="0.6"/>
<line x1="771.25" y1="678.75" x2="771.25" y2="1072" stroke="#000" stroke-width="1" stroke-dasharray="24 4 7 4"/>
<line x1="572.5" y1="873.25" x2="968.75" y2="873.25" stroke="#000" stroke-width="1" stroke-dasharray="24 4 7 4"/>
<circle cx="597" cy="698.65" r="8.3" stroke="#000" stroke-width="1.2" fill="none"/>
<circle cx="597" cy="698.65" r="6.9" stroke="#222" stroke-width="1" fill="none"/>
<line x1="592.4" y1="702.45" x2="601.6" y2="694.85" stroke="#000" stroke-width="2.2"/>
<line x1="585.5" y1="692.75" x2="588" y2="695.25" stroke="#333" stroke-width="0.9"/>
<line x1="587" y1="691.25" x2="589.5" y2="693.75" stroke="#333" stroke-width="0.9"/>
<line x1="588.5" y1="689.75" x2="591" y2="692.25" stroke="#333" stroke-width="0.9"/>
<line x1="590" y1="688.25" x2="592.5" y2="690.75" stroke="#333" stroke-width="0.9"/>
<line x1="591.5" y1="686.75" x2="594" y2="689.25" stroke="#333" stroke-width="0.9"/>
<line x1="584" y1="728.25" x2="627.5" y2="685.25" stroke="#000" stroke-width="1.6"/>
<line x1="586.2" y1="729.45" x2="628.8" y2="687.05" stroke="#333" stroke-width="0.8"/>
<line x1="589.5" y1="731.45" x2="631" y2="690.15" stroke="#333" stroke-width="0.8"/>
<line x1="591.1" y1="732.65" x2="632.2" y2="691.95" stroke="#000" stroke-width="2.2"/>
<path d="M603,684.45 L626.7,685.65 L615.6,696.65Z" stroke="#000" stroke-width="1.2" fill="none"/>
<line x1="604.5" y1="685.05" x2="614.5" y2="696.25" stroke="#000" stroke-width="2.2"/>
<path d="M583.6,706.15 L583.6,728.25 L595,717.25Z" stroke="#000" stroke-width="1.2" fill="none"/>
<line x1="584" y1="705.25" x2="595.5" y2="716.85" stroke="#000" stroke-width="1.2"/>
<line x1="603" y1="706.25" x2="607" y2="710.25" stroke="#222" stroke-width="1"/>
<line x1="589" y1="708.25" x2="601" y2="720.25" stroke="#333" stroke-width="0.9"/>
<path d="M595,717.25 L601.5,710.75" stroke="#222" stroke-width="1" fill="none"/>
<path d="M615.6,696.65 L609,703.25" stroke="#222" stroke-width="1" fill="none"/>
<circle cx="624.7" cy="710.95" r="2.4" stroke="#000" stroke-width="1.2" fill="none"/>
<circle cx="616.6" cy="718.55" r="2.4" stroke="#000" stroke-width="1.2" fill="none"/>
<circle cx="608.9" cy="726.35" r="2.4" stroke="#000" stroke-width="1.2" fill="none"/>
<path d="M632.2,691.95 L635.4,696.65 L633.8,713.25 L631,716.75" stroke="#000" stroke-width="1.2" fill="none"/>
<path d="M633.8,697.05 L632.3,712.25" stroke="#333" stroke-width="0.8" fill="none"/>
<path d="M613.5,735.85 L595.5,737.45 L592,733.55" stroke="#000" stroke-width="1.2" fill="none"/>
<path d="M612,734.25 L596,735.55" stroke="#333" stroke-width="0.8" fill="none"/>
<path d="M609.3,733.25 L630.4,711.85 L632.6,713.85 L632.2,717.25 L627.5,722.05 L624,722.85 L622.3,725.85 L622.8,727.75 L616.8,734.85 L612.2,735.85Z" stroke="#000" stroke-width="1.2" fill="none"/>
<line x1="611.5" y1="733.75" x2="631" y2="714.25" stroke="#333" stroke-width="0.8"/>
<path d="M635.74,734.55 L632.5,737.79 L627.9,737.79 L624.66,734.55 L624.66,729.95 L627.9,726.71 L632.5,726.71 L635.74,729.95Z" stroke="#000" stroke-width="1.3" fill="none"/>
<circle cx="630.2" cy="732.25" r="2.7" stroke="#000" stroke-width="1.3" fill="none"/>
<circle cx="645.3" cy="747.25" r="14.6" stroke="#111" stroke-width="1.1" fill="none"/>
<circle cx="645.3" cy="747.25" r="12.6" stroke="#111" stroke-width="1.1" fill="none"/>
<circle cx="645.3" cy="747.25" r="10.3" stroke="#000" stroke-width="2.4" fill="none"/>
<ellipse cx="645.3" cy="747.25" rx="3.7" ry="5.6" stroke="#333" stroke-width="1" fill="none" transform="rotate(8 645.3 747.25)"/>
<path d="M583.3,735.25 Q583.5,738.75 589.5,738.85" stroke="#6a6a6a" stroke-width="0.7" fill="none"/>
<path d="M634,684.55 Q637.5,684.75 637.6,690.75" stroke="#6a6a6a" stroke-width="0.7" fill="none"/>
<circle cx="597" cy="1047.6" r="8.3" stroke="#000" stroke-width="1.2" fill="none"/>
<circle cx="597" cy="1047.6" r="6.9" stroke="#222" stroke-width="1" fill="none"/>
<line x1="592.4" y1="1043.8" x2="601.6" y2="1051.4" stroke="#000" stroke-width="2.2"/>
<line x1="585.5" y1="1053.5" x2="588" y2="1051" stroke="#333" stroke-width="0.9"/>
<line x1="587" y1="1055" x2="589.5" y2="1052.5" stroke="#333" stroke-width="0.9"/>
<line x1="588.5" y1="1056.5" x2="591" y2="1054" stroke="#333" stroke-width="0.9"/>
<line x1="590" y1="1058" x2="592.5" y2="1055.5" stroke="#333" stroke-width="0.9"/>
<line x1="591.5" y1="1059.5" x2="594" y2="1057" stroke="#333" stroke-width="0.9"/>
<line x1="584" y1="1018" x2="627.5" y2="1061" stroke="#000" stroke-width="1.6"/>
<line x1="586.2" y1="1016.8" x2="628.8" y2="1059.2" stroke="#333" stroke-width="0.8"/>
<line x1="589.5" y1="1014.8" x2="631" y2="1056.1" stroke="#333" stroke-width="0.8"/>
<line x1="591.1" y1="1013.6" x2="632.2" y2="1054.3" stroke="#000" stroke-width="2.2"/>
<path d="M603,1061.8 L626.7,1060.6 L615.6,1049.6Z" stroke="#000" stroke-width="1.2" fill="none"/>
<line x1="604.5" y1="1061.2" x2="614.5" y2="1050" stroke="#000" stroke-width="2.2"/>
<path d="M583.6,1040.1 L583.6,1018 L595,1029Z" stroke="#000" stroke-width="1.2" fill="none"/>
<line x1="584" y1="1041" x2="595.5" y2="1029.4" stroke="#000" stroke-width="1.2"/>
<line x1="603" y1="1040" x2="607" y2="1036" stroke="#222" stroke-width="1"/>
<line x1="589" y1="1038" x2="601" y2="1026" stroke="#333" stroke-width="0.9"/>
<path d="M595,1029 L601.5,1035.5" stroke="#222" stroke-width="1" fill="none"/>
<path d="M615.6,1049.6 L609,1043" stroke="#222" stroke-width="1" fill="none"/>
<circle cx="624.7" cy="1035.3" r="2.4" stroke="#000" stroke-width="1.2" fill="none"/>
<circle cx="616.6" cy="1027.7" r="2.4" stroke="#000" stroke-width="1.2" fill="none"/>
<circle cx="608.9" cy="1019.9" r="2.4" stroke="#000" stroke-width="1.2" fill="none"/>
<path d="M632.2,1054.3 L635.4,1049.6 L633.8,1033 L631,1029.5" stroke="#000" stroke-width="1.2" fill="none"/>
<path d="M633.8,1049.2 L632.3,1034" stroke="#333" stroke-width="0.8" fill="none"/>
<path d="M613.5,1010.4 L595.5,1008.8 L592,1012.7" stroke="#000" stroke-width="1.2" fill="none"/>
<path d="M612,1012 L596,1010.7" stroke="#333" stroke-width="0.8" fill="none"/>
<path d="M609.3,1013 L630.4,1034.4 L632.6,1032.4 L632.2,1029 L627.5,1024.2 L624,1023.4 L622.3,1020.4 L622.8,1018.5 L616.8,1011.4 L612.2,1010.4Z" stroke="#000" stroke-width="1.2" fill="none"/>
<line x1="611.5" y1="1012.5" x2="631" y2="1032" stroke="#333" stroke-width="0.8"/>
<path d="M635.74,1016.3 L632.5,1019.54 L627.9,1019.54 L624.66,1016.3 L624.66,1011.7 L627.9,1008.46 L632.5,1008.46 L635.74,1011.7Z" stroke="#000" stroke-width="1.3" fill="none"/>
<circle cx="630.2" cy="1014" r="2.7" stroke="#000" stroke-width="1.3" fill="none"/>
<circle cx="645.3" cy="999" r="14.6" stroke="#111" stroke-width="1.1" fill="none"/>
<circle cx="645.3" cy="999" r="12.6" stroke="#111" stroke-width="1.1" fill="none"/>
<circle cx="645.3" cy="999" r="10.3" stroke="#000" stroke-width="2.4" fill="none"/>
<ellipse cx="645.3" cy="999" rx="3.7" ry="5.6" stroke="#333" stroke-width="1" fill="none" transform="rotate(-8 645.3 999)"/>
<path d="M583.3,1011 Q583.5,1007.5 589.5,1007.4" stroke="#6a6a6a" stroke-width="0.7" fill="none"/>
<path d="M634,1061.7 Q637.5,1061.5 637.6,1055.5" stroke="#6a6a6a" stroke-width="0.7" fill="none"/>
<circle cx="946.25" cy="698.65" r="8.3" stroke="#000" stroke-width="1.2" fill="none"/>
<circle cx="946.25" cy="698.65" r="6.9" stroke="#222" stroke-width="1" fill="none"/>
<line x1="950.85" y1="702.45" x2="941.65" y2="694.85" stroke="#000" stroke-width="2.2"/>
<line x1="957.75" y1="692.75" x2="955.25" y2="695.25" stroke="#333" stroke-width="0.9"/>
<line x1="956.25" y1="691.25" x2="953.75" y2="693.75" stroke="#333" stroke-width="0.9"/>
<line x1="954.75" y1="689.75" x2="952.25" y2="692.25" stroke="#333" stroke-width="0.9"/>
<line x1="953.25" y1="688.25" x2="950.75" y2="690.75" stroke="#333" stroke-width="0.9"/>
<line x1="951.75" y1="686.75" x2="949.25" y2="689.25" stroke="#333" stroke-width="0.9"/>
<line x1="959.25" y1="728.25" x2="915.75" y2="685.25" stroke="#000" stroke-width="1.6"/>
<line x1="957.05" y1="729.45" x2="914.45" y2="687.05" stroke="#333" stroke-width="0.8"/>
<line x1="953.75" y1="731.45" x2="912.25" y2="690.15" stroke="#333" stroke-width="0.8"/>
<line x1="952.15" y1="732.65" x2="911.05" y2="691.95" stroke="#000" stroke-width="2.2"/>
<path d="M940.25,684.45 L916.55,685.65 L927.65,696.65Z" stroke="#000" stroke-width="1.2" fill="none"/>
<line x1="938.75" y1="685.05" x2="928.75" y2="696.25" stroke="#000" stroke-width="2.2"/>
<path d="M959.65,706.15 L959.65,728.25 L948.25,717.25Z" stroke="#000" stroke-width="1.2" fill="none"/>
<line x1="959.25" y1="705.25" x2="947.75" y2="716.85" stroke="#000" stroke-width="1.2"/>
<line x1="940.25" y1="706.25" x2="936.25" y2="710.25" stroke="#222" stroke-width="1"/>
<line x1="954.25" y1="708.25" x2="942.25" y2="720.25" stroke="#333" stroke-width="0.9"/>
<path d="M948.25,717.25 L941.75,710.75" stroke="#222" stroke-width="1" fill="none"/>
<path d="M927.65,696.65 L934.25,703.25" stroke="#222" stroke-width="1" fill="none"/>
<circle cx="918.55" cy="710.95" r="2.4" stroke="#000" stroke-width="1.2" fill="none"/>
<circle cx="926.65" cy="718.55" r="2.4" stroke="#000" stroke-width="1.2" fill="none"/>
<circle cx="934.35" cy="726.35" r="2.4" stroke="#000" stroke-width="1.2" fill="none"/>
<path d="M911.05,691.95 L907.85,696.65 L909.45,713.25 L912.25,716.75" stroke="#000" stroke-width="1.2" fill="none"/>
<path d="M909.45,697.05 L910.95,712.25" stroke="#333" stroke-width="0.8" fill="none"/>
<path d="M929.75,735.85 L947.75,737.45 L951.25,733.55" stroke="#000" stroke-width="1.2" fill="none"/>
<path d="M931.25,734.25 L947.25,735.55" stroke="#333" stroke-width="0.8" fill="none"/>
<path d="M933.95,733.25 L912.85,711.85 L910.65,713.85 L911.05,717.25 L915.75,722.05 L919.25,722.85 L920.95,725.85 L920.45,727.75 L926.45,734.85 L931.05,735.85Z" stroke="#000" stroke-width="1.2" fill="none"/>
<line x1="931.75" y1="733.75" x2="912.25" y2="714.25" stroke="#333" stroke-width="0.8"/>
<path d="M918.59,734.55 L915.35,737.79 L910.75,737.79 L907.51,734.55 L907.51,729.95 L910.75,726.71 L915.35,726.71 L918.59,729.95Z" stroke="#000" stroke-width="1.3" fill="none"/>
<circle cx="913.05" cy="732.25" r="2.7" stroke="#000" stroke-width="1.3" fill="none"/>
<circle cx="897.95" cy="747.25" r="14.6" stroke="#111" stroke-width="1.1" fill="none"/>
<circle cx="897.95" cy="747.25" r="12.6" stroke="#111" stroke-width="1.1" fill="none"/>
<circle cx="897.95" cy="747.25" r="10.3" stroke="#000" stroke-width="2.4" fill="none"/>
<ellipse cx="897.95" cy="747.25" rx="5.6" ry="3.7" stroke="#333" stroke-width="1" fill="none"/>
<path d="M959.95,735.25 Q959.75,738.75 953.75,738.85" stroke="#6a6a6a" stroke-width="0.7" fill="none"/>
<path d="M909.25,684.55 Q905.75,684.75 905.65,690.75" stroke="#6a6a6a" stroke-width="0.7" fill="none"/>
<circle cx="946.25" cy="1047.6" r="8.3" stroke="#000" stroke-width="1.2" fill="none"/>
<circle cx="946.25" cy="1047.6" r="6.9" stroke="#222" stroke-width="1" fill="none"/>
<line x1="950.85" y1="1043.8" x2="941.65" y2="1051.4" stroke="#000" stroke-width="2.2"/>
<line x1="957.75" y1="1053.5" x2="955.25" y2="1051" stroke="#333" stroke-width="0.9"/>
<line x1="956.25" y1="1055" x2="953.75" y2="1052.5" stroke="#333" stroke-width="0.9"/>
<line x1="954.75" y1="1056.5" x2="952.25" y2="1054" stroke="#333" stroke-width="0.9"/>
<line x1="953.25" y1="1058" x2="950.75" y2="1055.5" stroke="#333" stroke-width="0.9"/>
<line x1="951.75" y1="1059.5" x2="949.25" y2="1057" stroke="#333" stroke-width="0.9"/>
<line x1="959.25" y1="1018" x2="915.75" y2="1061" stroke="#000" stroke-width="1.6"/>
<line x1="957.05" y1="1016.8" x2="914.45" y2="1059.2" stroke="#333" stroke-width="0.8"/>
<line x1="953.75" y1="1014.8" x2="912.25" y2="1056.1" stroke="#333" stroke-width="0.8"/>
<line x1="952.15" y1="1013.6" x2="911.05" y2="1054.3" stroke="#000" stroke-width="2.2"/>
<path d="M940.25,1061.8 L916.55,1060.6 L927.65,1049.6Z" stroke="#000" stroke-width="1.2" fill="none"/>
<line x1="938.75" y1="1061.2" x2="928.75" y2="1050" stroke="#000" stroke-width="2.2"/>
<path d="M959.65,1040.1 L959.65,1018 L948.25,1029Z" stroke="#000" stroke-width="1.2" fill="none"/>
<line x1="959.25" y1="1041" x2="947.75" y2="1029.4" stroke="#000" stroke-width="1.2"/>
<line x1="940.25" y1="1040" x2="936.25" y2="1036" stroke="#222" stroke-width="1"/>
<line x1="954.25" y1="1038" x2="942.25" y2="1026" stroke="#333" stroke-width="0.9"/>
<path d="M948.25,1029 L941.75,1035.5" stroke="#222" stroke-width="1" fill="none"/>
<path d="M927.65,1049.6 L934.25,1043" stroke="#222" stroke-width="1" fill="none"/>
<circle cx="918.55" cy="1035.3" r="2.4" stroke="#000" stroke-width="1.2" fill="none"/>
<circle cx="926.65" cy="1027.7" r="2.4" stroke="#000" stroke-width="1.2" fill="none"/>
<circle cx="934.35" cy="1019.9" r="2.4" stroke="#000" stroke-width="1.2" fill="none"/>
<path d="M911.05,1054.3 L907.85,1049.6 L909.45,1033 L912.25,1029.5" stroke="#000" stroke-width="1.2" fill="none"/>
<path d="M909.45,1049.2 L910.95,1034" stroke="#333" stroke-width="0.8" fill="none"/>
<path d="M929.75,1010.4 L947.75,1008.8 L951.25,1012.7" stroke="#000" stroke-width="1.2" fill="none"/>
<path d="M931.25,1012 L947.25,1010.7" stroke="#333" stroke-width="0.8" fill="none"/>
<path d="M933.95,1013 L912.85,1034.4 L910.65,1032.4 L911.05,1029 L915.75,1024.2 L919.25,1023.4 L920.95,1020.4 L920.45,1018.5 L926.45,1011.4 L931.05,1010.4Z" stroke="#000" stroke-width="1.2" fill="none"/>
<line x1="931.75" y1="1012.5" x2="912.25" y2="1032" stroke="#333" stroke-width="0.8"/>
<path d="M918.59,1016.3 L915.35,1019.54 L910.75,1019.54 L907.51,1016.3 L907.51,1011.7 L910.75,1008.46 L915.35,1008.46 L918.59,1011.7Z" stroke="#000" stroke-width="1.3" fill="none"/>
<circle cx="913.05" cy="1014" r="2.7" stroke="#000" stroke-width="1.3" fill="none"/>
<circle cx="897.95" cy="999" r="14.6" stroke="#111" stroke-width="1.1" fill="none"/>
<circle cx="897.95" cy="999" r="12.6" stroke="#111" stroke-width="1.1" fill="none"/>
<circle cx="897.95" cy="999" r="10.3" stroke="#000" stroke-width="2.4" fill="none"/>
<ellipse cx="897.95" cy="999" rx="5.6" ry="3.7" stroke="#333" stroke-width="1" fill="none"/>
<path d="M959.95,1011 Q959.75,1007.5 953.75,1007.4" stroke="#6a6a6a" stroke-width="0.7" fill="none"/>
<path d="M909.25,1061.7 Q905.75,1061.5 905.65,1055.5" stroke="#6a6a6a" stroke-width="0.7" fill="none"/>
<rect x="658.85" y="770.1" width="10.8" height="10.8" rx="1.3" ry="1.3" stroke="#000" stroke-width="1.7" fill="none"/>
<circle cx="664.25" cy="775.5" r="2.4" stroke="#000" stroke-width="1.3" fill="none"/>
<rect x="658.85" y="802.6" width="10.8" height="10.8" rx="1.3" ry="1.3" stroke="#000" stroke-width="1.7" fill="none"/>
<circle cx="664.25" cy="808" r="2.4" stroke="#000" stroke-width="1.3" fill="none"/>
<rect x="658.85" y="835.35" width="10.8" height="10.8" rx="1.3" ry="1.3" stroke="#000" stroke-width="1.7" fill="none"/>
<circle cx="664.25" cy="840.75" r="2.4" stroke="#000" stroke-width="1.3" fill="none"/>
<rect x="658.85" y="867.85" width="10.8" height="10.8" rx="1.3" ry="1.3" stroke="#000" stroke-width="1.7" fill="none"/>
<circle cx="664.25" cy="873.25" r="2.4" stroke="#000" stroke-width="1.3" fill="none"/>
<rect x="658.85" y="900.1" width="10.8" height="10.8" rx="1.3" ry="1.3" stroke="#000" stroke-width="1.7" fill="none"/>
<circle cx="664.25" cy="905.5" r="2.4" stroke="#000" stroke-width="1.3" fill="none"/>
<rect x="658.85" y="932.6" width="10.8" height="10.8" rx="1.3" ry="1.3" stroke="#000" stroke-width="1.7" fill="none"/>
<circle cx="664.25" cy="938" r="2.4" stroke="#000" stroke-width="1.3" fill="none"/>
<rect x="658.85" y="964.85" width="10.8" height="10.8" rx="1.3" ry="1.3" stroke="#000" stroke-width="1.7" fill="none"/>
<circle cx="664.25" cy="970.25" r="2.4" stroke="#000" stroke-width="1.3" fill="none"/>
<rect x="872.85" y="770.1" width="10.8" height="10.8" rx="1.3" ry="1.3" stroke="#000" stroke-width="1.7" fill="none"/>
<circle cx="878.25" cy="775.5" r="2.4" stroke="#000" stroke-width="1.3" fill="none"/>
<rect x="872.85" y="802.6" width="10.8" height="10.8" rx="1.3" ry="1.3" stroke="#000" stroke-width="1.7" fill="none"/>
<circle cx="878.25" cy="808" r="2.4" stroke="#000" stroke-width="1.3" fill="none"/>
<rect x="872.85" y="835.35" width="10.8" height="10.8" rx="1.3" ry="1.3" stroke="#000" stroke-width="1.7" fill="none"/>
<circle cx="878.25" cy="840.75" r="2.4" stroke="#000" stroke-width="1.3" fill="none"/>
<rect x="872.85" y="867.85" width="10.8" height="10.8" rx="1.3" ry="1.3" stroke="#000" stroke-width="1.7" fill="none"/>
<circle cx="878.25" cy="873.25" r="2.4" stroke="#000" stroke-width="1.3" fill="none"/>
<rect x="872.85" y="900.1" width="10.8" height="10.8" rx="1.3" ry="1.3" stroke="#000" stroke-width="1.7" fill="none"/>
<circle cx="878.25" cy="905.5" r="2.4" stroke="#000" stroke-width="1.3" fill="none"/>
<rect x="872.85" y="932.6" width="10.8" height="10.8" rx="1.3" ry="1.3" stroke="#000" stroke-width="1.7" fill="none"/>
<circle cx="878.25" cy="938" r="2.4" stroke="#000" stroke-width="1.3" fill="none"/>
<rect x="872.85" y="964.85" width="10.8" height="10.8" rx="1.3" ry="1.3" stroke="#000" stroke-width="1.7" fill="none"/>
<circle cx="878.25" cy="970.25" r="2.4" stroke="#000" stroke-width="1.3" fill="none"/>
<rect x="765.85" y="770.1" width="10.8" height="10.8" rx="1.3" ry="1.3" stroke="#000" stroke-width="1.7" fill="none"/>
<circle cx="771.25" cy="775.5" r="2.4" stroke="#000" stroke-width="1.3" fill="none"/>
<rect x="765.85" y="964.85" width="10.8" height="10.8" rx="1.3" ry="1.3" stroke="#000" stroke-width="1.7" fill="none"/>
<circle cx="771.25" cy="970.25" r="2.4" stroke="#000" stroke-width="1.3" fill="none"/>
<rect x="658.75" y="760.4" width="11" height="3.2" rx="1.6" ry="1.6" stroke="#000" stroke-width="1.2" fill="none"/>
<rect x="658.75" y="982.65" width="11" height="3.2" rx="1.6" ry="1.6" stroke="#000" stroke-width="1.2" fill="none"/>
<rect x="765.75" y="760.4" width="11" height="3.2" rx="1.6" ry="1.6" stroke="#000" stroke-width="1.2" fill="none"/>
<rect x="765.75" y="982.65" width="11" height="3.2" rx="1.6" ry="1.6" stroke="#000" stroke-width="1.2" fill="none"/>
<rect x="872.75" y="760.4" width="11" height="3.2" rx="1.6" ry="1.6" stroke="#000" stroke-width="1.2" fill="none"/>
<rect x="872.75" y="982.65" width="11" height="3.2" rx="1.6" ry="1.6" stroke="#000" stroke-width="1.2" fill="none"/>
<line x1="655" y1="775.5" x2="674" y2="775.5" stroke="#000" stroke-width="1"/>
<line x1="868.5" y1="775.5" x2="888.5" y2="775.5" stroke="#000" stroke-width="1"/>
<line x1="664.5" y1="765" x2="664.5" y2="785.5" stroke="#000" stroke-width="1"/>
<line x1="595.2" y1="775.5" x2="599.5" y2="775.5" stroke="#222" stroke-width="1.8" stroke-linecap="round"/>
<line x1="948.05" y1="775.5" x2="943.75" y2="775.5" stroke="#222" stroke-width="1.8" stroke-linecap="round"/>
<line x1="595.2" y1="808" x2="599.5" y2="808" stroke="#222" stroke-width="1.8" stroke-linecap="round"/>
<line x1="948.05" y1="808" x2="943.75" y2="808" stroke="#222" stroke-width="1.8" stroke-linecap="round"/>
<line x1="595.2" y1="840.75" x2="599.5" y2="840.75" stroke="#222" stroke-width="1.8" stroke-linecap="round"/>
<line x1="948.05" y1="840.75" x2="943.75" y2="840.75" stroke="#222" stroke-width="1.8" stroke-linecap="round"/>
<line x1="595.2" y1="873.25" x2="599.5" y2="873.25" stroke="#222" stroke-width="1.8" stroke-linecap="round"/>
<line x1="948.05" y1="873.25" x2="943.75" y2="873.25" stroke="#222" stroke-width="1.8" stroke-linecap="round"/>
<line x1="595.2" y1="905.5" x2="599.5" y2="905.5" stroke="#222" stroke-width="1.8" stroke-linecap="round"/>
<line x1="948.05" y1="905.5" x2="943.75" y2="905.5" stroke="#222" stroke-width="1.8" stroke-linecap="round"/>
<line x1="595.2" y1="938" x2="599.5" y2="938" stroke="#222" stroke-width="1.8" stroke-linecap="round"/>
<line x1="948.05" y1="938" x2="943.75" y2="938" stroke="#222" stroke-width="1.8" stroke-linecap="round"/>
<line x1="595.2" y1="970.25" x2="599.5" y2="970.25" stroke="#222" stroke-width="1.8" stroke-linecap="round"/>
<line x1="948.05" y1="970.25" x2="943.75" y2="970.25" stroke="#222" stroke-width="1.8" stroke-linecap="round"/>
<line x1="581" y1="828" x2="581" y2="834" stroke="#000" stroke-width="2.6"/>
<line x1="962.25" y1="828" x2="962.25" y2="834" stroke="#000" stroke-width="2.6"/>
<line x1="581" y1="906" x2="581" y2="912" stroke="#000" stroke-width="2.6"/>
<line x1="962.25" y1="906" x2="962.25" y2="912" stroke="#000" stroke-width="2.6"/>
<line x1="664.5" y1="696.25" x2="664.5" y2="700.25" stroke="#222" stroke-width="2"/>
<line x1="664.5" y1="1050" x2="664.5" y2="1046" stroke="#333" stroke-width="1.6"/>
<line x1="771.25" y1="696.25" x2="771.25" y2="700.25" stroke="#222" stroke-width="2"/>
<line x1="771.25" y1="1050" x2="771.25" y2="1046" stroke="#333" stroke-width="1.6"/>
<line x1="878.5" y1="696.25" x2="878.5" y2="700.25" stroke="#222" stroke-width="2"/>
<line x1="878.5" y1="1050" x2="878.5" y2="1046" stroke="#333" stroke-width="1.6"/>
<line x1="729" y1="681.65" x2="735" y2="681.65" stroke="#6a6a6a" stroke-width="0.9"/>
<line x1="729" y1="1064.6" x2="735" y2="1064.6" stroke="#444" stroke-width="1.2"/>
<line x1="807" y1="681.65" x2="813" y2="681.65" stroke="#6a6a6a" stroke-width="0.9"/>
<line x1="807" y1="1064.6" x2="813" y2="1064.6" stroke="#444" stroke-width="1.2"/>
<circle cx="771.25" cy="801.25" r="17.4" stroke="#000" stroke-width="1.2" fill="none"/>
<circle cx="771.25" cy="801.25" r="14.6" stroke="#000" stroke-width="1.9" fill="none"/>
<path d="M766.75,798.95 A6.6,6.6 0 1 0 775.75,798.95 Q774.25,797.25 774.35,796.25 A3.1,3.1 0 0 0 768.15,796.25 Q768.25,797.25 766.75,798.95 Z" stroke="#333" stroke-width="1" fill="none"/>
<line x1="771.25" y1="792.25" x2="771.25" y2="804.25" stroke="#000" stroke-width="1.6"/>
<circle cx="771.25" cy="945" r="17.4" stroke="#000" stroke-width="1.2" fill="none"/>
<circle cx="771.25" cy="945" r="14.6" stroke="#000" stroke-width="1.9" fill="none"/>
<path d="M766.75,947.3 A6.6,6.6 0 1 1 775.75,947.3 Q774.25,949 774.35,950 A3.1,3.1 0 0 1 768.15,950 Q768.25,949 766.75,947.3 Z" stroke="#333" stroke-width="1" fill="none"/>
<line x1="771.25" y1="954" x2="771.25" y2="942" stroke="#000" stroke-width="1.6"/>
<line x1="517" y1="775.5" x2="673.75" y2="775.5" stroke="#000" stroke-width="1"/>
<line x1="517" y1="970.25" x2="660" y2="970.25" stroke="#000" stroke-width="1"/>
<line x1="522.5" y1="775.5" x2="522.5" y2="970.25" stroke="#000" stroke-width="1"/>
<polygon points="522.5,775.5 524.2,786.5 520.8,786.5" fill="#000"/>
<polygon points="522.5,970.25 520.8,959.25 524.2,959.25" fill="#000"/>
<text transform="translate(521 881.25) rotate(-90) scale(0.8 1)" font-size="12.57" textLength="19.38" lengthAdjust="spacing" stroke="#fff" stroke-width="0.22" fill="#1a1a1a">150</text>
<line x1="548" y1="756.25" x2="548" y2="827.5" stroke="#000" stroke-width="1"/>
<polygon points="548,775.5 546.3,764.5 549.7,764.5" fill="#000"/>
<polygon points="548,808 549.7,819 546.3,819" fill="#000"/>
<line x1="543.25" y1="808" x2="660" y2="808" stroke="#000" stroke-width="1"/>
<text transform="translate(547.5 805) rotate(-90) scale(0.8 1)" font-size="12.22" textLength="30" lengthAdjust="spacing" stroke="#fff" stroke-width="0.22" fill="#1a1a1a">6x25</text>
<line x1="637.5" y1="1060" x2="637.5" y2="1129.5" stroke="#000" stroke-width="1"/>
<line x1="905.5" y1="1060" x2="905.5" y2="1129.5" stroke="#000" stroke-width="1"/>
<line x1="637.5" y1="1125.5" x2="905.5" y2="1125.5" stroke="#000" stroke-width="1"/>
<polygon points="637.5,1125.5 648.5,1123.8 648.5,1127.2" fill="#000"/>
<polygon points="905.5,1125.5 894.5,1127.2 894.5,1123.8" fill="#000"/>
<rect x="756.3" y="1114.8" width="8.2" height="8.2" stroke="#333" stroke-width="0.9" fill="none"/>
<text transform="translate(767 1123.25) scale(0.8 1)" font-size="12.22" textLength="22.5" lengthAdjust="spacing" stroke="#fff" stroke-width="0.22" fill="#1a1a1a">206</text>
<line x1="595.5" y1="1010" x2="595.5" y2="1149.5" stroke="#000" stroke-width="1"/>
<line x1="947.5" y1="1010" x2="947.5" y2="1149.5" stroke="#000" stroke-width="1"/>
<line x1="595.5" y1="1144.5" x2="947.5" y2="1144.5" stroke="#000" stroke-width="1"/>
<polygon points="595.5,1144.5 606.5,1142.8 606.5,1146.2" fill="#000"/>
<polygon points="947.5,1144.5 936.5,1146.2 936.5,1142.8" fill="#000"/>
<rect x="756.3" y="1134.2" width="8.2" height="8.2" stroke="#333" stroke-width="0.9" fill="none"/>
<text transform="translate(767 1142.5) scale(0.8 1)" font-size="12.22" textLength="21.88" lengthAdjust="spacing" stroke="#fff" stroke-width="0.22" fill="#1a1a1a">271</text>
<!-- view6 -->
<text transform="translate(1165 532.5) scale(0.8 1)" font-size="16.76" textLength="45.31" lengthAdjust="spacing" stroke="#fff" stroke-width="0.22" fill="#1a1a1a">Seite</text>
<text transform="translate(1211.25 532.5) scale(0.8 1)" font-size="16.76" textLength="31.25" lengthAdjust="spacing" stroke="#fff" stroke-width="0.22" fill="#1a1a1a">B+D</text>
<text transform="translate(1165 549.5) scale(0.8 1)" font-size="16.76" textLength="35.94" lengthAdjust="spacing" stroke="#fff" stroke-width="0.22" fill="#1a1a1a">side</text>
<text transform="translate(1213 549.5) scale(0.8 1)" font-size="16.76" textLength="31.25" lengthAdjust="spacing" stroke="#fff" stroke-width="0.22" fill="#1a1a1a">B+D</text>
<text transform="translate(1076.25 566.25) scale(0.8 1)" font-size="23.39" textLength="40" lengthAdjust="spacing" stroke="#fff" stroke-width="0.22" fill="#666">F-F</text>
<text transform="translate(1030 628.25)" font-size="23.04" textLength="10.5" lengthAdjust="spacingAndGlyphs" stroke="#fff" stroke-width="0.22" fill="#555">X</text>
<path d="M1045,619.25 L1060,619.25 L1082.5,675" stroke="#333" stroke-width="1" fill="none"/>
<polygon points="1082.8,675.8 1077.57,667.13 1080.54,665.93" fill="#000"/>
<circle cx="1103.6" cy="729" r="56" stroke="#222" stroke-width="1" fill="none"/>
<line x1="1124.5" y1="595" x2="1124.5" y2="738.75" stroke="#000" stroke-width="1"/>
<line x1="1131.5" y1="621.25" x2="1131.5" y2="782" stroke="#000" stroke-width="1"/>
<line x1="1330" y1="595" x2="1330" y2="1045" stroke="#6a6a6a" stroke-width="1"/>
<line x1="1124.5" y1="600.25" x2="1330" y2="600.25" stroke="#222" stroke-width="1"/>
<polygon points="1124.5,600.25 1135.5,598.55 1135.5,601.95" fill="#222"/>
<polygon points="1330,600.25 1319,601.95 1319,598.55" fill="#222"/>
<text transform="translate(1218.75 598.75) scale(0.8 1)" font-size="12.22" textLength="19.69" lengthAdjust="spacing" stroke="#fff" stroke-width="0.22" fill="#1a1a1a">158</text>
<line x1="1131.5" y1="626.25" x2="1330" y2="626.25" stroke="#222" stroke-width="1"/>
<polygon points="1131.5,626.25 1142.5,624.55 1142.5,627.95" fill="#222"/>
<polygon points="1330,626.25 1319,627.95 1319,624.55" fill="#222"/>
<text transform="translate(1217 624.5) scale(0.8 1)" font-size="12.22" textLength="31.88" lengthAdjust="spacing" stroke="#fff" stroke-width="0.22" fill="#1a1a1a">152.5</text>
<line x1="1105" y1="682.5" x2="1257.5" y2="682.5" stroke="#000" stroke-width="1.2"/>
<line x1="1144" y1="694.4" x2="1310" y2="694.4" stroke="#000" stroke-width="1.1"/>
<path d="M1257,683 L1242.5,683 L1242.5,713 L1257,713" stroke="#000" stroke-width="1.4" fill="none"/>
<path d="M1257,1033.75 L1242.5,1033.75 L1242.5,1063.75 L1257,1063.75" stroke="#000" stroke-width="1.4" fill="none"/>
<path d="M1257.5,1066 L1257.5,680.5 Q1257.8,678.2 1260.5,678 L1278,678.4 Q1281,678.6 1281.25,681 L1281.25,1062 Q1281,1066 1278,1066.5 L1260.5,1067.5 Q1258,1067.5 1257.5,1066" stroke="#222" stroke-width="1.1" fill="none"/>
<line x1="1260.5" y1="678" x2="1260.5" y2="1067.5" stroke="#222" stroke-width="1.1"/>
<line x1="1277" y1="678.4" x2="1277" y2="1066.5" stroke="#6a6a6a" stroke-width="1"/>
<line x1="1255" y1="735" x2="1255" y2="1011.25" stroke="#333" stroke-width="1"/>
<path d="M1281.8,684 L1307.9,685.4 Q1313,686 1318,689 Q1328,694.5 1334.6,701.8 L1334.6,1044.7 Q1328,1052 1318,1057.5 Q1313,1060.5 1307.9,1061.1 L1281.8,1062.5" stroke="#111" stroke-width="1.1" fill="none"/>
<line x1="1307.9" y1="685.4" x2="1307.9" y2="1061.1" stroke="#111" stroke-width="1.2"/>
<line x1="1283.8" y1="694.65" x2="1307.9" y2="695.4" stroke="#222" stroke-width="1"/>
<line x1="1332.8" y1="710" x2="1332.8" y2="1036.5" stroke="#6a6a6a" stroke-width="0.8"/>
<path d="M1313,686.7 Q1313,694 1313.4,698.2 Q1314,702.5 1317,703.75 Q1321,707 1324.9,708.1 L1334.4,710" stroke="#111" stroke-width="1.1" fill="none"/>
<path d="M1314,688 L1320,691 L1314.5,691.5Z" stroke="none" stroke-width="0" fill="#999"/>
<path d="M1321,705.8 L1334,706 L1334,709 L1326,708Z" stroke="none" stroke-width="0" fill="#999"/>
<rect x="1303" y="697.5" width="3.3" height="3" rx="1" ry="1" stroke="#111" stroke-width="1.1" fill="none"/>
<path d="M1313,1059.8 Q1313,1052.5 1313.4,1048.3 Q1314,1044 1317,1042.75 Q1321,1039.5 1324.9,1038.4 L1334.4,1036.5" stroke="#111" stroke-width="1.1" fill="none"/>
<path d="M1314,1058.5 L1320,1055.5 L1314.5,1055Z" stroke="none" stroke-width="0" fill="#999"/>
<path d="M1321,1040.7 L1334,1040.5 L1334,1037.5 L1326,1038.5Z" stroke="none" stroke-width="0" fill="#999"/>
<rect x="1303" y="1046" width="3.3" height="3" rx="1" ry="1" stroke="#111" stroke-width="1.1" fill="none"/>
<path d="M1333.75,817.5 C1322,828 1308,836 1299,848 C1291,860 1290,874 1295,884 C1302,898 1322,910 1333.75,915.5" stroke="#222" stroke-width="1" fill="none"/>
<line x1="1329.5" y1="832" x2="1334" y2="826" stroke="#444" stroke-width="0.8"/>
<line x1="1329.5" y1="890" x2="1334" y2="884" stroke="#444" stroke-width="0.8"/>
<line x1="1105" y1="1051.25" x2="1308.5" y2="1051.25" stroke="#333" stroke-width="1"/>
<line x1="1101.25" y1="790" x2="1101.25" y2="1060" stroke="#6a6a6a" stroke-width="0.8"/>
<line x1="1105" y1="682.5" x2="1105" y2="1063.75" stroke="#222" stroke-width="1.1"/>
<path d="M1105,795 L1102.6,795 Q1101.2,795 1101.2,797 L1101.2,815.5 Q1101.2,817.5 1102.6,817.5 L1105,817.5" stroke="#6a6a6a" stroke-width="0.8" fill="none"/>
<path d="M1105,929 L1102.6,929 Q1101.2,929 1101.2,931 L1101.2,959 Q1101.2,961 1102.6,961 L1105,961" stroke="#6a6a6a" stroke-width="0.8" fill="none"/>
<path d="M1105,985 L1102.6,985 Q1101.2,985 1101.2,987 L1101.2,1015.5 Q1101.2,1017.5 1102.6,1017.5 L1105,1017.5" stroke="#6a6a6a" stroke-width="0.8" fill="none"/>
<path d="M1105,1043.75 L1102.6,1043.75 Q1101.2,1043.75 1101.2,1045.75 L1101.2,1058 Q1101.2,1060 1102.6,1060 L1105,1060" stroke="#6a6a6a" stroke-width="0.8" fill="none"/>
<line x1="1104.3" y1="997" x2="1104.3" y2="1025" stroke="#444" stroke-width="1.6"/>
<path d="M1142.5,735 L1255,735" stroke="#000" stroke-width="1.6" fill="none"/>
<path d="M1123,786 L1123,1009.5 Q1123,1011.25 1125,1011.25 L1255,1011.25" stroke="#000" stroke-width="1.6" fill="none"/>
<path d="M1142.5,739.5 L1249.5,739.5 Q1251.5,739.5 1251.5,741.5 L1251.5,1006.25 L1128.5,1006.25 L1128.5,790" stroke="#000" stroke-width="1" fill="none" stroke-dasharray="24 4 7 4"/>
<line x1="1128.5" y1="1006" x2="1128.5" y2="1068" stroke="#333" stroke-width="1"/>
<line x1="1251.25" y1="1006" x2="1251.25" y2="1068" stroke="#6a6a6a" stroke-width="1"/>
<line x1="1105" y1="1063.75" x2="1257.5" y2="1063.75" stroke="#222" stroke-width="1.1"/>
<line x1="1128" y1="1068.25" x2="1251.25" y2="1068.25" stroke="#000" stroke-width="1" stroke-dasharray="24 4 7 4"/>
<line x1="1090" y1="873.25" x2="1345" y2="873.25" stroke="#000" stroke-width="1" stroke-dasharray="24 4 7 4"/>
<line x1="1255" y1="740" x2="1371.75" y2="740" stroke="#6a6a6a" stroke-width="1"/>
<line x1="1251" y1="1006.25" x2="1371.75" y2="1006.25" stroke="#6a6a6a" stroke-width="1"/>
<line x1="1366.75" y1="740" x2="1366.75" y2="1006.25" stroke="#333" stroke-width="1"/>
<polygon points="1366.75,740 1368.45,751 1365.05,751" fill="#333"/>
<polygon points="1366.75,1006.25 1365.05,995.25 1368.45,995.25" fill="#333"/>
<text transform="translate(1365 882.5) rotate(-90) scale(0.8 1)" font-size="12.57" textLength="21.88" lengthAdjust="spacing" stroke="#fff" stroke-width="0.22" fill="#1a1a1a">205</text>
<line x1="1100.5" y1="1063" x2="1100.5" y2="1150" stroke="#333" stroke-width="1"/>
<line x1="1128.25" y1="1068" x2="1128.25" y2="1111" stroke="#444" stroke-width="1"/>
<line x1="1251.25" y1="1068" x2="1251.25" y2="1111" stroke="#444" stroke-width="1"/>
<line x1="1259.5" y1="1067" x2="1259.5" y2="1130.5" stroke="#000" stroke-width="1"/>
<line x1="1334.5" y1="1042" x2="1334.5" y2="1150" stroke="#333" stroke-width="1"/>
<line x1="1081.25" y1="1107" x2="1251.25" y2="1107" stroke="#444" stroke-width="1"/>
<polygon points="1100.5,1107 1089.5,1108.7 1089.5,1105.3" fill="#000"/>
<polygon points="1128.25,1107 1139.25,1105.3 1139.25,1108.7" fill="#000"/>
<polygon points="1251.25,1107 1240.25,1108.7 1240.25,1105.3" fill="#000"/>
<text transform="translate(1103 1105.5) scale(0.8 1)" font-size="12.57" textLength="25.94" lengthAdjust="spacing" stroke="#fff" stroke-width="0.22" fill="#1a1a1a">21.5</text>
<text transform="translate(1183.75 1105.5) scale(0.8 1)" font-size="12.57" textLength="13.44" lengthAdjust="spacing" stroke="#fff" stroke-width="0.22" fill="#1a1a1a">95</text>
<line x1="1100.5" y1="1126.5" x2="1259.5" y2="1126.5" stroke="#000" stroke-width="1"/>
<polygon points="1100.5,1126.5 1111.5,1124.8 1111.5,1128.2" fill="#000"/>
<polygon points="1259.5,1126.5 1248.5,1128.2 1248.5,1124.8" fill="#000"/>
<text transform="translate(1166 1125) scale(0.8 1)" font-size="12.22" textLength="33.12" lengthAdjust="spacing" stroke="#fff" stroke-width="0.22" fill="#1a1a1a">122.5</text>
<line x1="1100.5" y1="1146" x2="1334.5" y2="1146" stroke="#000" stroke-width="1"/>
<polygon points="1100.5,1146 1111.5,1144.3 1111.5,1147.7" fill="#000"/>
<polygon points="1334.5,1146 1323.5,1147.7 1323.5,1144.3" fill="#000"/>
<text transform="translate(1208.75 1144) scale(0.8 1)" font-size="12.22" textLength="19.69" lengthAdjust="spacing" stroke="#fff" stroke-width="0.22" fill="#1a1a1a">180</text>
<line x1="1100.3" y1="686.5" x2="1100.3" y2="790" stroke="#6a6a6a" stroke-width="0.8"/>
<path d="M1105.4,686.5 L1100.3,686.5" stroke="#222" stroke-width="1" fill="none"/>
<path d="M1100.3,702 L1110,702" stroke="#222" stroke-width="1" fill="none"/>
<rect x="1100.3" y="690.5" width="9.7" height="7.5" stroke="#6a6a6a" stroke-width="0.8" fill="none"/>
<line x1="1112.6" y1="687.5" x2="1112.6" y2="700.6" stroke="#000" stroke-width="1.8"/>
<line x1="1113" y1="687" x2="1141" y2="687" stroke="#222" stroke-width="1"/>
<line x1="1113" y1="700.6" x2="1144" y2="700.6" stroke="#222" stroke-width="1"/>
<line x1="1110" y1="704.4" x2="1145" y2="704.4" stroke="#222" stroke-width="1"/>
<path d="M1105.4,682.5 L1105.4,686.5" stroke="#222" stroke-width="1" fill="none"/>
<line x1="1108" y1="687" x2="1112.5" y2="682.5" stroke="#222" stroke-width="0.9"/>
<line x1="1116" y1="687" x2="1120.5" y2="682.5" stroke="#222" stroke-width="0.9"/>
<line x1="1125" y1="687" x2="1129.5" y2="682.5" stroke="#222" stroke-width="0.9"/>
<line x1="1133" y1="687" x2="1137.5" y2="682.5" stroke="#222" stroke-width="0.9"/>
<line x1="1101" y1="704.4" x2="1104.8" y2="700.6" stroke="#222" stroke-width="0.9"/>
<line x1="1118" y1="704.4" x2="1121.8" y2="700.6" stroke="#222" stroke-width="0.9"/>
<line x1="1126" y1="704.4" x2="1129.8" y2="700.6" stroke="#222" stroke-width="0.9"/>
<line x1="1135" y1="704.4" x2="1138.8" y2="700.6" stroke="#222" stroke-width="0.9"/>
<line x1="1108" y1="687" x2="1112" y2="690" stroke="#222" stroke-width="0.8"/>
<path d="M1139.4,682.5 Q1146,695 1147,708.75 Q1146,722 1142.5,735 L1141.25,741.25 Q1142,752 1143,762.5 Q1144.5,772 1143.75,777.5 Q1143,783 1138.75,785 Q1132,789 1125,790 Q1112,793.5 1105,792.5 Q1102,792 1100.3,790.5" stroke="#222" stroke-width="0.9" fill="none"/>
<line x1="1103.75" y1="733" x2="1142" y2="733" stroke="#222" stroke-width="1.2"/>
<line x1="1103.75" y1="737.8" x2="1142" y2="737.8" stroke="#222" stroke-width="1.2"/>
<line x1="1103.75" y1="733" x2="1103.75" y2="742.5" stroke="#222" stroke-width="1"/>
<line x1="1108" y1="737.8" x2="1112.5" y2="733" stroke="#222" stroke-width="0.9"/>
<line x1="1114" y1="737.8" x2="1118.5" y2="733" stroke="#222" stroke-width="0.9"/>
<line x1="1125.5" y1="737.8" x2="1130" y2="733" stroke="#222" stroke-width="0.9"/>
<line x1="1131.5" y1="737.8" x2="1136" y2="733" stroke="#222" stroke-width="0.9"/>
<line x1="1137.5" y1="737.8" x2="1142" y2="733" stroke="#222" stroke-width="0.9"/>
<rect x="1105.4" y="737.8" width="17.6" height="4.7" stroke="#222" stroke-width="1" fill="none"/>
<rect x="1101" y="742.5" width="12" height="18.1" rx="1.5" ry="1.5" stroke="#6a6a6a" stroke-width="0.8" fill="none"/>
<line x1="1113.75" y1="742.5" x2="1113.75" y2="780" stroke="#222" stroke-width="1"/>
<path d="M1125,738.75 L1125,760 L1127,760 L1127,763 L1125,763 L1125,770.6 L1130.6,770.6 L1130.6,780" stroke="#222" stroke-width="1" fill="none"/>
<line x1="1113.75" y1="752" x2="1123.75" y2="742" stroke="#222" stroke-width="0.9"/>
<line x1="1113.75" y1="761" x2="1123.75" y2="751" stroke="#222" stroke-width="0.9"/>
<line x1="1113.75" y1="770" x2="1123.75" y2="760" stroke="#222" stroke-width="0.9"/>
<line x1="1113.75" y1="779" x2="1123.75" y2="769" stroke="#222" stroke-width="0.9"/>
<rect x="1116.9" y="773.75" width="13.1" height="4.25" rx="0.8" ry="0.8" stroke="#333" stroke-width="0.8" fill="#777"/>
<path d="M1100.3,790.5 L1103,786 L1112,784.5 L1130.6,780" stroke="#222" stroke-width="1" fill="none"/>
<line x1="1105" y1="787" x2="1111" y2="782" stroke="#222" stroke-width="0.9"/>
<line x1="1112" y1="787.5" x2="1120" y2="780.5" stroke="#222" stroke-width="0.9"/>
<!-- view7 -->
<text transform="translate(1531.75 591.25)" font-size="22" textLength="9" lengthAdjust="spacingAndGlyphs" stroke="#fff" stroke-width="0.22" fill="#555">F</text>
<line x1="1480.5" y1="599.5" x2="1550.75" y2="599.5" stroke="#6a6a6a" stroke-width="1"/>
<polygon points="1480.5,599.5 1512.5,594.3 1512.5,604.7" fill="#000"/>
<text transform="translate(1731.25 1175)" font-size="22.7" textLength="9.25" lengthAdjust="spacingAndGlyphs" stroke="#fff" stroke-width="0.22" fill="#555">F</text>
<line x1="1658.75" y1="1166.25" x2="1729.5" y2="1166.25" stroke="#6a6a6a" stroke-width="1"/>
<polygon points="1658.75,1166.25 1691.25,1161 1691.25,1171.5" fill="#000"/>
<line x1="1837" y1="628.75" x2="1837" y2="722" stroke="#000" stroke-width="1"/>
<line x1="1480.5" y1="634.25" x2="1837" y2="634.25" stroke="#000" stroke-width="1"/>
<polygon points="1480.5,634.25 1491.5,632.55 1491.5,635.95" fill="#000"/>
<polygon points="1837,634.25 1826,635.95 1826,632.55" fill="#000"/>
<rect x="1643.5" y="624" width="8.2" height="8.2" stroke="#333" stroke-width="0.9" fill="none"/>
<text transform="translate(1654 632.5) scale(0.8 1)" font-size="12.22" textLength="23.12" lengthAdjust="spacing" stroke="#fff" stroke-width="0.22" fill="#1a1a1a">275</text>
<line x1="1532.5" y1="648" x2="1532.5" y2="858.5" stroke="#000" stroke-width="1"/>
<line x1="1784.5" y1="648" x2="1784.5" y2="858.5" stroke="#000" stroke-width="1"/>
<line x1="1532.5" y1="653.75" x2="1784.5" y2="653.75" stroke="#000" stroke-width="1"/>
<polygon points="1532.5,653.75 1543.5,652.05 1543.5,655.45" fill="#000"/>
<polygon points="1784.5,653.75 1773.5,655.45 1773.5,652.05" fill="#000"/>
<rect x="1644.5" y="643.6" width="8.2" height="8.2" stroke="#333" stroke-width="0.9" fill="none"/>
<text transform="translate(1655.5 652) scale(0.8 1)" font-size="12.22" textLength="19.06" lengthAdjust="spacing" stroke="#fff" stroke-width="0.22" fill="#1a1a1a">194</text>
<line x1="1532.5" y1="858" x2="1784.5" y2="858" stroke="#000" stroke-width="1.1"/>
<text transform="translate(1725 671.25) scale(0.8 1)" font-size="13.27" textLength="34.38" lengthAdjust="spacing" stroke="#fff" stroke-width="0.22" fill="#333">Ø6.2</text>
<line x1="1725" y1="673.25" x2="1808.75" y2="673.25" stroke="#333" stroke-width="1"/>
<line x1="1780.5" y1="668" x2="1780.5" y2="790" stroke="#222" stroke-width="1"/>
<line x1="1788.75" y1="668" x2="1788.75" y2="790" stroke="#222" stroke-width="1"/>
<polygon points="1780.5,673.25 1769.5,674.95 1769.5,671.55" fill="#000"/>
<polygon points="1788.75,673.25 1799.75,671.55 1799.75,674.95" fill="#000"/>
<rect x="1463.9" y="712.4" width="389.2" height="389.2" rx="14" ry="14" stroke="#666" stroke-width="2" fill="none"/>
<line x1="1477.9" y1="712.6" x2="1839.1" y2="712.6" stroke="#222" stroke-width="1.6"/>
<rect x="1467.7" y="716.4" width="381.6" height="381.2" rx="11" ry="11" stroke="#222" stroke-width="1.1" fill="none"/>
<rect x="1471.3" y="719.8" width="374.4" height="374.4" rx="8" ry="8" stroke="#111" stroke-width="2" fill="none"/>
<line x1="1469.4" y1="742.4" x2="1469.4" y2="1071.6" stroke="#888" stroke-width="0.7"/>
<line x1="1847.6" y1="742.4" x2="1847.6" y2="1071.6" stroke="#888" stroke-width="0.7"/>
<line x1="1503.9" y1="1096.1" x2="1813.1" y2="1096.1" stroke="#333" stroke-width="1"/>
<line x1="1551.5" y1="719.8" x2="1551.5" y2="1094.2" stroke="#111" stroke-width="4.2"/>
<line x1="1551.5" y1="719.8" x2="1551.5" y2="1094.2" stroke="#8a8a8a" stroke-width="1.2"/>
<line x1="1765.5" y1="719.8" x2="1765.5" y2="1094.2" stroke="#111" stroke-width="4.2"/>
<line x1="1765.5" y1="719.8" x2="1765.5" y2="1094.2" stroke="#8a8a8a" stroke-width="1.2"/>
<line x1="1658.5" y1="719.8" x2="1658.5" y2="1094.2" stroke="#111" stroke-width="2.8"/>
<line x1="1471.3" y1="907" x2="1631.5" y2="907" stroke="#111" stroke-width="4.2"/>
<line x1="1471.3" y1="907" x2="1631.5" y2="907" stroke="#8a8a8a" stroke-width="1.2"/>
<line x1="1685.5" y1="907" x2="1845.7" y2="907" stroke="#111" stroke-width="4.2"/>
<line x1="1685.5" y1="907" x2="1845.7" y2="907" stroke="#8a8a8a" stroke-width="1.2"/>
<line x1="1471.3" y1="809.5" x2="1551.5" y2="809.5" stroke="#111" stroke-width="4.2"/>
<line x1="1471.3" y1="809.5" x2="1551.5" y2="809.5" stroke="#8a8a8a" stroke-width="1.2"/>
<line x1="1765.5" y1="809.5" x2="1845.7" y2="809.5" stroke="#111" stroke-width="4.2"/>
<line x1="1765.5" y1="809.5" x2="1845.7" y2="809.5" stroke="#8a8a8a" stroke-width="1.2"/>
<line x1="1471.3" y1="1004.5" x2="1551.5" y2="1004.5" stroke="#111" stroke-width="4.2"/>
<line x1="1471.3" y1="1004.5" x2="1551.5" y2="1004.5" stroke="#8a8a8a" stroke-width="1.2"/>
<line x1="1765.5" y1="1004.5" x2="1845.7" y2="1004.5" stroke="#111" stroke-width="4.2"/>
<line x1="1765.5" y1="1004.5" x2="1845.7" y2="1004.5" stroke="#8a8a8a" stroke-width="1.2"/>
<line x1="1551.5" y1="841.5" x2="1639.5" y2="841.5" stroke="#111" stroke-width="4.2"/>
<line x1="1551.5" y1="841.5" x2="1639.5" y2="841.5" stroke="#8a8a8a" stroke-width="1.2"/>
<line x1="1677.5" y1="841.5" x2="1765.5" y2="841.5" stroke="#111" stroke-width="4.2"/>
<line x1="1677.5" y1="841.5" x2="1765.5" y2="841.5" stroke="#8a8a8a" stroke-width="1.2"/>
<line x1="1551.5" y1="972.5" x2="1639.5" y2="972.5" stroke="#111" stroke-width="4.2"/>
<line x1="1551.5" y1="972.5" x2="1639.5" y2="972.5" stroke="#8a8a8a" stroke-width="1.2"/>
<line x1="1677.5" y1="972.5" x2="1765.5" y2="972.5" stroke="#111" stroke-width="4.2"/>
<line x1="1677.5" y1="972.5" x2="1765.5" y2="972.5" stroke="#8a8a8a" stroke-width="1.2"/>
<circle cx="1658.5" cy="907" r="27.6" stroke="none" stroke-width="0" fill="#fff"/>
<circle cx="1658.5" cy="907" r="27" stroke="#111" stroke-width="2" fill="none"/>
<circle cx="1658.5" cy="907" r="24.6" stroke="#222" stroke-width="1" fill="none"/>
<circle cx="1658.5" cy="836.4" r="20.2" stroke="none" stroke-width="0" fill="#fff"/>
<circle cx="1658.5" cy="836.4" r="19.6" stroke="#111" stroke-width="1.3" fill="none"/>
<circle cx="1658.5" cy="836.4" r="17.4" stroke="#111" stroke-width="1.8" fill="none"/>
<circle cx="1658.5" cy="836.4" r="15" stroke="#222" stroke-width="1" fill="none"/>
<circle cx="1658.5" cy="836.4" r="12.6" stroke="#444" stroke-width="0.8" fill="none"/>
<path d="M1655.9,832.7 A5.8,5.8 0 1 0 1661.1,832.7 L1661.1,828.9 A2.6,2.6 0 0 0 1655.9,828.9 Z" stroke="#222" stroke-width="0.9" fill="none"/>
<circle cx="1658.5" cy="977.6" r="20.2" stroke="none" stroke-width="0" fill="#fff"/>
<circle cx="1658.5" cy="977.6" r="19.6" stroke="#111" stroke-width="1.3" fill="none"/>
<circle cx="1658.5" cy="977.6" r="17.4" stroke="#111" stroke-width="1.8" fill="none"/>
<circle cx="1658.5" cy="977.6" r="15" stroke="#222" stroke-width="1" fill="none"/>
<circle cx="1658.5" cy="977.6" r="12.6" stroke="#444" stroke-width="0.8" fill="none"/>
<path d="M1655.9,981.3 A5.8,5.8 0 1 1 1661.1,981.3 L1661.1,985.1 A2.6,2.6 0 0 1 1655.9,985.1 Z" stroke="#222" stroke-width="0.9" fill="none"/>
<circle cx="1551.5" cy="809.5" r="6.5" stroke="none" stroke-width="0" fill="#fff"/>
<circle cx="1551.5" cy="809.5" r="5.5" stroke="#111" stroke-width="2.1" fill="none"/>
<circle cx="1551.5" cy="809.5" r="3.6" stroke="#666" stroke-width="0.7" fill="none"/>
<circle cx="1551.5" cy="841.5" r="6.5" stroke="none" stroke-width="0" fill="#fff"/>
<circle cx="1551.5" cy="841.5" r="5.5" stroke="#111" stroke-width="2.1" fill="none"/>
<circle cx="1551.5" cy="841.5" r="3.6" stroke="#666" stroke-width="0.7" fill="none"/>
<circle cx="1551.5" cy="874.5" r="6.5" stroke="none" stroke-width="0" fill="#fff"/>
<circle cx="1551.5" cy="874.5" r="5.5" stroke="#111" stroke-width="2.1" fill="none"/>
<circle cx="1551.5" cy="874.5" r="3.6" stroke="#666" stroke-width="0.7" fill="none"/>
<circle cx="1551.5" cy="907" r="6.5" stroke="none" stroke-width="0" fill="#fff"/>
<circle cx="1551.5" cy="907" r="5.5" stroke="#111" stroke-width="2.1" fill="none"/>
<circle cx="1551.5" cy="907" r="3.6" stroke="#666" stroke-width="0.7" fill="none"/>
<circle cx="1551.5" cy="939.5" r="6.5" stroke="none" stroke-width="0" fill="#fff"/>
<circle cx="1551.5" cy="939.5" r="5.5" stroke="#111" stroke-width="2.1" fill="none"/>
<circle cx="1551.5" cy="939.5" r="3.6" stroke="#666" stroke-width="0.7" fill="none"/>
<circle cx="1551.5" cy="972.5" r="6.5" stroke="none" stroke-width="0" fill="#fff"/>
<circle cx="1551.5" cy="972.5" r="5.5" stroke="#111" stroke-width="2.1" fill="none"/>
<circle cx="1551.5" cy="972.5" r="3.6" stroke="#666" stroke-width="0.7" fill="none"/>
<circle cx="1551.5" cy="1004.5" r="6.5" stroke="none" stroke-width="0" fill="#fff"/>
<circle cx="1551.5" cy="1004.5" r="5.5" stroke="#111" stroke-width="2.1" fill="none"/>
<circle cx="1551.5" cy="1004.5" r="3.6" stroke="#666" stroke-width="0.7" fill="none"/>
<circle cx="1765.5" cy="809.5" r="6.5" stroke="none" stroke-width="0" fill="#fff"/>
<circle cx="1765.5" cy="809.5" r="5.5" stroke="#111" stroke-width="2.1" fill="none"/>
<circle cx="1765.5" cy="809.5" r="3.6" stroke="#666" stroke-width="0.7" fill="none"/>
<circle cx="1765.5" cy="841.5" r="6.5" stroke="none" stroke-width="0" fill="#fff"/>
<circle cx="1765.5" cy="841.5" r="5.5" stroke="#111" stroke-width="2.1" fill="none"/>
<circle cx="1765.5" cy="841.5" r="3.6" stroke="#666" stroke-width="0.7" fill="none"/>
<circle cx="1765.5" cy="874.5" r="6.5" stroke="none" stroke-width="0" fill="#fff"/>
<circle cx="1765.5" cy="874.5" r="5.5" stroke="#111" stroke-width="2.1" fill="none"/>
<circle cx="1765.5" cy="874.5" r="3.6" stroke="#666" stroke-width="0.7" fill="none"/>
<circle cx="1765.5" cy="907" r="6.5" stroke="none" stroke-width="0" fill="#fff"/>
<circle cx="1765.5" cy="907" r="5.5" stroke="#111" stroke-width="2.1" fill="none"/>
<circle cx="1765.5" cy="907" r="3.6" stroke="#666" stroke-width="0.7" fill="none"/>
<circle cx="1765.5" cy="939.5" r="6.5" stroke="none" stroke-width="0" fill="#fff"/>
<circle cx="1765.5" cy="939.5" r="5.5" stroke="#111" stroke-width="2.1" fill="none"/>
<circle cx="1765.5" cy="939.5" r="3.6" stroke="#666" stroke-width="0.7" fill="none"/>
<circle cx="1765.5" cy="972.5" r="6.5" stroke="none" stroke-width="0" fill="#fff"/>
<circle cx="1765.5" cy="972.5" r="5.5" stroke="#111" stroke-width="2.1" fill="none"/>
<circle cx="1765.5" cy="972.5" r="3.6" stroke="#666" stroke-width="0.7" fill="none"/>
<circle cx="1765.5" cy="1004.5" r="6.5" stroke="none" stroke-width="0" fill="#fff"/>
<circle cx="1765.5" cy="1004.5" r="5.5" stroke="#111" stroke-width="2.1" fill="none"/>
<circle cx="1765.5" cy="1004.5" r="3.6" stroke="#666" stroke-width="0.7" fill="none"/>
<circle cx="1658.5" cy="809.5" r="6.1" stroke="none" stroke-width="0" fill="#fff"/>
<circle cx="1658.5" cy="809.5" r="5.1" stroke="#111" stroke-width="2.1" fill="none"/>
<circle cx="1658.5" cy="809.5" r="3.2" stroke="#666" stroke-width="0.7" fill="none"/>
<circle cx="1658.5" cy="1004.5" r="6.1" stroke="none" stroke-width="0" fill="#fff"/>
<circle cx="1658.5" cy="1004.5" r="5.1" stroke="#111" stroke-width="2.1" fill="none"/>
<circle cx="1658.5" cy="1004.5" r="3.2" stroke="#666" stroke-width="0.7" fill="none"/>
<line x1="1658.5" y1="679.5" x2="1658.5" y2="1095" stroke="#000" stroke-width="1" stroke-dasharray="24 4 7 4"/>
<line x1="1455" y1="907.5" x2="1863.75" y2="907.5" stroke="#000" stroke-width="1" stroke-dasharray="24 4 7 4"/>
<circle cx="1605" cy="775.5" r="26.7" stroke="#111" stroke-width="1.2" fill="none"/>
<circle cx="1605" cy="775.5" r="24.9" stroke="#222" stroke-width="1" fill="none"/>
<circle cx="1605" cy="775.5" r="21" stroke="#000" stroke-width="1.7" fill="none"/>
<circle cx="1605" cy="775.5" r="19.2" stroke="#777" stroke-width="1" fill="none"/>
<line x1="1572.5" y1="775.5" x2="1596" y2="775.5" stroke="#000" stroke-width="1"/>
<line x1="1614" y1="775.5" x2="1637.5" y2="775.5" stroke="#000" stroke-width="1"/>
<line x1="1605" y1="743.5" x2="1605" y2="768" stroke="#000" stroke-width="1"/>
<line x1="1605" y1="771" x2="1605" y2="780" stroke="#000" stroke-width="1"/>
<line x1="1605" y1="783" x2="1605" y2="807.5" stroke="#000" stroke-width="1"/>
<text transform="translate(1596.5 777.7)" font-size="6.42" textLength="17" lengthAdjust="spacingAndGlyphs" font-weight="bold" fill="#000">M32/40</text>
<circle cx="1605" cy="1037.8" r="26.7" stroke="#111" stroke-width="1.2" fill="none"/>
<circle cx="1605" cy="1037.8" r="24.9" stroke="#222" stroke-width="1" fill="none"/>
<circle cx="1605" cy="1037.8" r="21" stroke="#000" stroke-width="1.7" fill="none"/>
<circle cx="1605" cy="1037.8" r="19.2" stroke="#777" stroke-width="1" fill="none"/>
<line x1="1572.5" y1="1037.8" x2="1596" y2="1037.8" stroke="#000" stroke-width="1"/>
<line x1="1614" y1="1037.8" x2="1637.5" y2="1037.8" stroke="#000" stroke-width="1"/>
<line x1="1605" y1="1005.8" x2="1605" y2="1030.3" stroke="#000" stroke-width="1"/>
<line x1="1605" y1="1033.3" x2="1605" y2="1042.3" stroke="#000" stroke-width="1"/>
<line x1="1605" y1="1045.3" x2="1605" y2="1069.8" stroke="#000" stroke-width="1"/>
<text transform="translate(1596.5 1040)" font-size="6.42" textLength="17" lengthAdjust="spacingAndGlyphs" font-weight="bold" fill="#000">M32/40</text>
<circle cx="1712" cy="775.5" r="26.7" stroke="#111" stroke-width="1.2" fill="none"/>
<circle cx="1712" cy="775.5" r="24.9" stroke="#222" stroke-width="1" fill="none"/>
<circle cx="1712" cy="775.5" r="21" stroke="#000" stroke-width="1.7" fill="none"/>
<circle cx="1712" cy="775.5" r="19.2" stroke="#777" stroke-width="1" fill="none"/>
<line x1="1679.5" y1="775.5" x2="1703" y2="775.5" stroke="#000" stroke-width="1"/>
<line x1="1721" y1="775.5" x2="1744.5" y2="775.5" stroke="#000" stroke-width="1"/>
<line x1="1712" y1="743.5" x2="1712" y2="768" stroke="#000" stroke-width="1"/>
<line x1="1712" y1="771" x2="1712" y2="780" stroke="#000" stroke-width="1"/>
<line x1="1712" y1="783" x2="1712" y2="807.5" stroke="#000" stroke-width="1"/>
<text transform="translate(1703.5 777.7)" font-size="6.42" textLength="17" lengthAdjust="spacingAndGlyphs" font-weight="bold" fill="#000">M32/40</text>
<circle cx="1712" cy="1037.8" r="26.7" stroke="#111" stroke-width="1.2" fill="none"/>
<circle cx="1712" cy="1037.8" r="24.9" stroke="#222" stroke-width="1" fill="none"/>
<circle cx="1712" cy="1037.8" r="21" stroke="#000" stroke-width="1.7" fill="none"/>
<circle cx="1712" cy="1037.8" r="19.2" stroke="#777" stroke-width="1" fill="none"/>
<line x1="1679.5" y1="1037.8" x2="1703" y2="1037.8" stroke="#000" stroke-width="1"/>
<line x1="1721" y1="1037.8" x2="1744.5" y2="1037.8" stroke="#000" stroke-width="1"/>
<line x1="1712" y1="1005.8" x2="1712" y2="1030.3" stroke="#000" stroke-width="1"/>
<line x1="1712" y1="1033.3" x2="1712" y2="1042.3" stroke="#000" stroke-width="1"/>
<line x1="1712" y1="1045.3" x2="1712" y2="1069.8" stroke="#000" stroke-width="1"/>
<text transform="translate(1703.5 1040)" font-size="6.42" textLength="17" lengthAdjust="spacingAndGlyphs" font-weight="bold" fill="#000">M32/40</text>
<circle cx="1532.5" cy="781.4" r="16.8" stroke="#555" stroke-width="0.8" fill="none"/>
<circle cx="1532.5" cy="781.4" r="13.6" stroke="#444" stroke-width="0.8" fill="none"/>
<circle cx="1532.5" cy="781.4" r="11" stroke="#444" stroke-width="0.9" fill="none"/>
<circle cx="1532.5" cy="781.4" r="5.2" stroke="#666" stroke-width="0.8" fill="none"/>
<ellipse cx="1532.5" cy="781.9" rx="2.6" ry="3.6" stroke="#777" stroke-width="0.7" fill="none"/>
<line x1="1509.5" y1="781.4" x2="1556.5" y2="781.4" stroke="#000" stroke-width="1"/>
<line x1="1532.5" y1="757.4" x2="1532.5" y2="805.4" stroke="#000" stroke-width="1"/>
<circle cx="1532.5" cy="1033" r="16.8" stroke="#555" stroke-width="0.8" fill="none"/>
<circle cx="1532.5" cy="1033" r="13.6" stroke="#444" stroke-width="0.8" fill="none"/>
<circle cx="1532.5" cy="1033" r="11" stroke="#444" stroke-width="0.9" fill="none"/>
<circle cx="1532.5" cy="1033" r="5.2" stroke="#666" stroke-width="0.8" fill="none"/>
<ellipse cx="1532.5" cy="1033.5" rx="2.6" ry="3.6" stroke="#777" stroke-width="0.7" fill="none"/>
<line x1="1509.5" y1="1033" x2="1556.5" y2="1033" stroke="#000" stroke-width="1"/>
<line x1="1532.5" y1="1009" x2="1532.5" y2="1057" stroke="#000" stroke-width="1"/>
<circle cx="1784.5" cy="781.4" r="16.8" stroke="#555" stroke-width="0.8" fill="none"/>
<circle cx="1784.5" cy="781.4" r="13.6" stroke="#444" stroke-width="0.8" fill="none"/>
<circle cx="1784.5" cy="781.4" r="11" stroke="#444" stroke-width="0.9" fill="none"/>
<circle cx="1784.5" cy="781.4" r="5.2" stroke="#666" stroke-width="0.8" fill="none"/>
<ellipse cx="1784.5" cy="781.9" rx="2.6" ry="3.6" stroke="#777" stroke-width="0.7" fill="none"/>
<line x1="1761.5" y1="781.4" x2="1808.5" y2="781.4" stroke="#000" stroke-width="1"/>
<line x1="1784.5" y1="757.4" x2="1784.5" y2="805.4" stroke="#000" stroke-width="1"/>
<circle cx="1784.5" cy="1033" r="16.8" stroke="#555" stroke-width="0.8" fill="none"/>
<circle cx="1784.5" cy="1033" r="13.6" stroke="#444" stroke-width="0.8" fill="none"/>
<circle cx="1784.5" cy="1033" r="11" stroke="#444" stroke-width="0.9" fill="none"/>
<circle cx="1784.5" cy="1033" r="5.2" stroke="#666" stroke-width="0.8" fill="none"/>
<ellipse cx="1784.5" cy="1033.5" rx="2.6" ry="3.6" stroke="#777" stroke-width="0.7" fill="none"/>
<line x1="1761.5" y1="1033" x2="1808.5" y2="1033" stroke="#000" stroke-width="1"/>
<line x1="1784.5" y1="1009" x2="1784.5" y2="1057" stroke="#000" stroke-width="1"/>
<g transform="translate(1480 728.5) rotate(45) scale(1 1)">
<path d="M-2,-13.7 L33,-13.7 M0,-12.2 L33,-12.2" stroke="#000" stroke-width="1.2" fill="none"/>
<path d="M2,13.9 L33,13.9 M4,12.3 L33,12.3" stroke="#000" stroke-width="1.2" fill="none"/>
<circle cx="4.5" cy="-1" r="11" stroke="#111" stroke-width="1.1" fill="#fff"/>
<path d="M12,-11 L31,-11 L33,-9 L33,9 L31,11 L12,11" stroke="#000" stroke-width="1.2" fill="none"/>
<path d="M13,-5 L17,-5 M13,5 L17,5" stroke="#000" stroke-width="1.1" fill="none"/>
<rect x="16" y="-10.3" width="12" height="4.5" stroke="none" stroke-width="0" fill="#0a0a0a"/>
<rect x="16" y="5" width="12" height="4.5" stroke="none" stroke-width="0" fill="#0a0a0a"/>
<rect x="14.5" y="-10.3" width="1.2" height="15.3" stroke="none" stroke-width="0" fill="#222"/>
<rect x="17.5" y="-3.6" width="7.6" height="7.2" stroke="#000" stroke-width="1.1" fill="#fff"/>
<line x1="25.1" y1="-3.6" x2="25.1" y2="3.6" stroke="#777" stroke-width="2"/>
<rect x="28.6" y="-9.6" width="2.6" height="3.2" stroke="#000" stroke-width="1" fill="#fff"/>
<rect x="28.6" y="6" width="2.6" height="3.2" stroke="#000" stroke-width="1" fill="#fff"/>
<rect x="26" y="-3" width="4.5" height="6" stroke="#222" stroke-width="1" fill="none"/>
<line x1="32" y1="-8" x2="32" y2="-6" stroke="#111" stroke-width="1.6"/>
<line x1="34.6" y1="-8" x2="34.6" y2="-6" stroke="#222" stroke-width="1.3"/>
<line x1="32" y1="-4.5" x2="32" y2="-2.5" stroke="#111" stroke-width="1.6"/>
<line x1="34.6" y1="-4.5" x2="34.6" y2="-2.5" stroke="#222" stroke-width="1.3"/>
<line x1="32" y1="-1" x2="32" y2="1" stroke="#111" stroke-width="1.6"/>
<line x1="34.6" y1="-1" x2="34.6" y2="1" stroke="#222" stroke-width="1.3"/>
<line x1="32" y1="2.5" x2="32" y2="4.5" stroke="#111" stroke-width="1.6"/>
<line x1="34.6" y1="2.5" x2="34.6" y2="4.5" stroke="#222" stroke-width="1.3"/>
<line x1="32" y1="6" x2="32" y2="8" stroke="#111" stroke-width="1.6"/>
<line x1="34.6" y1="6" x2="34.6" y2="8" stroke="#222" stroke-width="1.3"/>
<path d="M33,-13.7 L36.5,-10 L36.5,9 L33,13.9" stroke="#222" stroke-width="1.1" fill="none"/>
<path d="M21,-13.7 L21,-17.5 Q21,-19 22.5,-19 L31.5,-19 Q33,-19 33,-17.5 L33,-13.7" stroke="#000" stroke-width="1.4" fill="none"/>
<line x1="22.5" y1="-16.5" x2="31.5" y2="-16.5" stroke="#222" stroke-width="0.9"/>
<line x1="17.2" y1="17" x2="17.2" y2="19.5" stroke="#111" stroke-width="2"/>
</g>
<circle cx="1480" cy="728.5" r="9.9" stroke="none" stroke-width="0" fill="#fff"/>
<circle cx="1480" cy="728.5" r="8.15" stroke="#0a0a0a" stroke-width="3.3" fill="none"/>
<circle cx="1480" cy="728.5" r="4.4" stroke="none" stroke-width="0" fill="#1a1a1a"/>
<line x1="1519.6" y1="722.5" x2="1518.1" y2="741.5" stroke="#1a1a1a" stroke-width="5.4"/>
<line x1="1519.6" y1="722.5" x2="1518.1" y2="741.5" stroke="#fff" stroke-width="3.4"/>
<line x1="1518.1" y1="741.5" x2="1522.1" y2="752.5" stroke="#1a1a1a" stroke-width="5.4"/>
<line x1="1518.1" y1="741.5" x2="1522.1" y2="752.5" stroke="#fff" stroke-width="3.4"/>
<line x1="1476.3" y1="766.9" x2="1499.3" y2="764.4" stroke="#1a1a1a" stroke-width="5.4"/>
<line x1="1476.3" y1="766.9" x2="1499.3" y2="764.4" stroke="#fff" stroke-width="3.4"/>
<line x1="1499.3" y1="764.4" x2="1504.3" y2="760.9" stroke="#1a1a1a" stroke-width="5.4"/>
<line x1="1499.3" y1="764.4" x2="1504.3" y2="760.9" stroke="#fff" stroke-width="3.4"/>
<line x1="1517.3" y1="765.9" x2="1524.3" y2="772.9" stroke="#222" stroke-width="5"/>
<line x1="1517.3" y1="765.9" x2="1524.3" y2="772.9" stroke="#bbb" stroke-width="2.2"/>
<circle cx="1525.6" cy="728.5" r="7.6" stroke="none" stroke-width="0" fill="#fff"/>
<circle cx="1525.6" cy="728.5" r="6.4" stroke="#0a0a0a" stroke-width="2.3" fill="none"/>
<circle cx="1525.6" cy="728.5" r="3" stroke="#111" stroke-width="1.2" fill="none"/>
<circle cx="1512.3" cy="760.9" r="7.6" stroke="none" stroke-width="0" fill="#fff"/>
<circle cx="1512.3" cy="760.9" r="6.4" stroke="#0a0a0a" stroke-width="2.3" fill="none"/>
<circle cx="1512.3" cy="760.9" r="3" stroke="#111" stroke-width="1.2" fill="none"/>
<circle cx="1480.3" cy="773.9" r="7.6" stroke="none" stroke-width="0" fill="#fff"/>
<circle cx="1480.3" cy="773.9" r="6.4" stroke="#0a0a0a" stroke-width="2.3" fill="none"/>
<circle cx="1480.3" cy="773.9" r="3" stroke="#111" stroke-width="1.2" fill="none"/>
<g transform="translate(1480 1085.5) rotate(-45) scale(1 -1)">
<path d="M-2,-13.7 L33,-13.7 M0,-12.2 L33,-12.2" stroke="#000" stroke-width="1.2" fill="none"/>
<path d="M2,13.9 L33,13.9 M4,12.3 L33,12.3" stroke="#000" stroke-width="1.2" fill="none"/>
<circle cx="4.5" cy="-1" r="11" stroke="#111" stroke-width="1.1" fill="#fff"/>
<path d="M12,-11 L31,-11 L33,-9 L33,9 L31,11 L12,11" stroke="#000" stroke-width="1.2" fill="none"/>
<path d="M13,-5 L17,-5 M13,5 L17,5" stroke="#000" stroke-width="1.1" fill="none"/>
<rect x="16" y="-10.3" width="12" height="4.5" stroke="none" stroke-width="0" fill="#0a0a0a"/>
<rect x="16" y="5" width="12" height="4.5" stroke="none" stroke-width="0" fill="#0a0a0a"/>
<rect x="14.5" y="-10.3" width="1.2" height="15.3" stroke="none" stroke-width="0" fill="#222"/>
<rect x="17.5" y="-3.6" width="7.6" height="7.2" stroke="#000" stroke-width="1.1" fill="#fff"/>
<line x1="25.1" y1="-3.6" x2="25.1" y2="3.6" stroke="#777" stroke-width="2"/>
<rect x="28.6" y="-9.6" width="2.6" height="3.2" stroke="#000" stroke-width="1" fill="#fff"/>
<rect x="28.6" y="6" width="2.6" height="3.2" stroke="#000" stroke-width="1" fill="#fff"/>
<rect x="26" y="-3" width="4.5" height="6" stroke="#222" stroke-width="1" fill="none"/>
<line x1="32" y1="-8" x2="32" y2="-6" stroke="#111" stroke-width="1.6"/>
<line x1="34.6" y1="-8" x2="34.6" y2="-6" stroke="#222" stroke-width="1.3"/>
<line x1="32" y1="-4.5" x2="32" y2="-2.5" stroke="#111" stroke-width="1.6"/>
<line x1="34.6" y1="-4.5" x2="34.6" y2="-2.5" stroke="#222" stroke-width="1.3"/>
<line x1="32" y1="-1" x2="32" y2="1" stroke="#111" stroke-width="1.6"/>
<line x1="34.6" y1="-1" x2="34.6" y2="1" stroke="#222" stroke-width="1.3"/>
<line x1="32" y1="2.5" x2="32" y2="4.5" stroke="#111" stroke-width="1.6"/>
<line x1="34.6" y1="2.5" x2="34.6" y2="4.5" stroke="#222" stroke-width="1.3"/>
<line x1="32" y1="6" x2="32" y2="8" stroke="#111" stroke-width="1.6"/>
<line x1="34.6" y1="6" x2="34.6" y2="8" stroke="#222" stroke-width="1.3"/>
<path d="M33,-13.7 L36.5,-10 L36.5,9 L33,13.9" stroke="#222" stroke-width="1.1" fill="none"/>
<path d="M21,-13.7 L21,-17.5 Q21,-19 22.5,-19 L31.5,-19 Q33,-19 33,-17.5 L33,-13.7" stroke="#000" stroke-width="1.4" fill="none"/>
<line x1="22.5" y1="-16.5" x2="31.5" y2="-16.5" stroke="#222" stroke-width="0.9"/>
<line x1="17.2" y1="17" x2="17.2" y2="19.5" stroke="#111" stroke-width="2"/>
</g>
<circle cx="1480" cy="1085.5" r="9.9" stroke="none" stroke-width="0" fill="#fff"/>
<circle cx="1480" cy="1085.5" r="8.15" stroke="#0a0a0a" stroke-width="3.3" fill="none"/>
<circle cx="1480" cy="1085.5" r="4.4" stroke="none" stroke-width="0" fill="#1a1a1a"/>
<line x1="1519.6" y1="1091.5" x2="1518.1" y2="1072.5" stroke="#1a1a1a" stroke-width="5.4"/>
<line x1="1519.6" y1="1091.5" x2="1518.1" y2="1072.5" stroke="#fff" stroke-width="3.4"/>
<line x1="1518.1" y1="1072.5" x2="1522.1" y2="1061.5" stroke="#1a1a1a" stroke-width="5.4"/>
<line x1="1518.1" y1="1072.5" x2="1522.1" y2="1061.5" stroke="#fff" stroke-width="3.4"/>
<line x1="1476.3" y1="1047.1" x2="1499.3" y2="1049.6" stroke="#1a1a1a" stroke-width="5.4"/>
<line x1="1476.3" y1="1047.1" x2="1499.3" y2="1049.6" stroke="#fff" stroke-width="3.4"/>
<line x1="1499.3" y1="1049.6" x2="1504.3" y2="1053.1" stroke="#1a1a1a" stroke-width="5.4"/>
<line x1="1499.3" y1="1049.6" x2="1504.3" y2="1053.1" stroke="#fff" stroke-width="3.4"/>
<line x1="1517.3" y1="1048.1" x2="1524.3" y2="1041.1" stroke="#222" stroke-width="5"/>
<line x1="1517.3" y1="1048.1" x2="1524.3" y2="1041.1" stroke="#bbb" stroke-width="2.2"/>
<circle cx="1525.6" cy="1085.5" r="7.6" stroke="none" stroke-width="0" fill="#fff"/>
<circle cx="1525.6" cy="1085.5" r="6.4" stroke="#0a0a0a" stroke-width="2.3" fill="none"/>
<circle cx="1525.6" cy="1085.5" r="3" stroke="#111" stroke-width="1.2" fill="none"/>
<circle cx="1512.3" cy="1053.1" r="7.6" stroke="none" stroke-width="0" fill="#fff"/>
<circle cx="1512.3" cy="1053.1" r="6.4" stroke="#0a0a0a" stroke-width="2.3" fill="none"/>
<circle cx="1512.3" cy="1053.1" r="3" stroke="#111" stroke-width="1.2" fill="none"/>
<circle cx="1480.3" cy="1040.1" r="7.6" stroke="none" stroke-width="0" fill="#fff"/>
<circle cx="1480.3" cy="1040.1" r="6.4" stroke="#0a0a0a" stroke-width="2.3" fill="none"/>
<circle cx="1480.3" cy="1040.1" r="3" stroke="#111" stroke-width="1.2" fill="none"/>
<g transform="translate(1837 728.5) rotate(135) scale(1 -1)">
<path d="M-2,-13.7 L33,-13.7 M0,-12.2 L33,-12.2" stroke="#000" stroke-width="1.2" fill="none"/>
<path d="M2,13.9 L33,13.9 M4,12.3 L33,12.3" stroke="#000" stroke-width="1.2" fill="none"/>
<circle cx="4.5" cy="-1" r="11" stroke="#111" stroke-width="1.1" fill="#fff"/>
<path d="M12,-11 L31,-11 L33,-9 L33,9 L31,11 L12,11" stroke="#000" stroke-width="1.2" fill="none"/>
<path d="M13,-5 L17,-5 M13,5 L17,5" stroke="#000" stroke-width="1.1" fill="none"/>
<rect x="16" y="-10.3" width="12" height="4.5" stroke="none" stroke-width="0" fill="#0a0a0a"/>
<rect x="16" y="5" width="12" height="4.5" stroke="none" stroke-width="0" fill="#0a0a0a"/>
<rect x="14.5" y="-10.3" width="1.2" height="15.3" stroke="none" stroke-width="0" fill="#222"/>
<rect x="17.5" y="-3.6" width="7.6" height="7.2" stroke="#000" stroke-width="1.1" fill="#fff"/>
<line x1="25.1" y1="-3.6" x2="25.1" y2="3.6" stroke="#777" stroke-width="2"/>
<rect x="28.6" y="-9.6" width="2.6" height="3.2" stroke="#000" stroke-width="1" fill="#fff"/>
<rect x="28.6" y="6" width="2.6" height="3.2" stroke="#000" stroke-width="1" fill="#fff"/>
<rect x="26" y="-3" width="4.5" height="6" stroke="#222" stroke-width="1" fill="none"/>
<line x1="32" y1="-8" x2="32" y2="-6" stroke="#111" stroke-width="1.6"/>
<line x1="34.6" y1="-8" x2="34.6" y2="-6" stroke="#222" stroke-width="1.3"/>
<line x1="32" y1="-4.5" x2="32" y2="-2.5" stroke="#111" stroke-width="1.6"/>
<line x1="34.6" y1="-4.5" x2="34.6" y2="-2.5" stroke="#222" stroke-width="1.3"/>
<line x1="32" y1="-1" x2="32" y2="1" stroke="#111" stroke-width="1.6"/>
<line x1="34.6" y1="-1" x2="34.6" y2="1" stroke="#222" stroke-width="1.3"/>
<line x1="32" y1="2.5" x2="32" y2="4.5" stroke="#111" stroke-width="1.6"/>
<line x1="34.6" y1="2.5" x2="34.6" y2="4.5" stroke="#222" stroke-width="1.3"/>
<line x1="32" y1="6" x2="32" y2="8" stroke="#111" stroke-width="1.6"/>
<line x1="34.6" y1="6" x2="34.6" y2="8" stroke="#222" stroke-width="1.3"/>
<path d="M33,-13.7 L36.5,-10 L36.5,9 L33,13.9" stroke="#222" stroke-width="1.1" fill="none"/>
<path d="M21,-13.7 L21,-17.5 Q21,-19 22.5,-19 L31.5,-19 Q33,-19 33,-17.5 L33,-13.7" stroke="#000" stroke-width="1.4" fill="none"/>
<line x1="22.5" y1="-16.5" x2="31.5" y2="-16.5" stroke="#222" stroke-width="0.9"/>
<line x1="17.2" y1="17" x2="17.2" y2="19.5" stroke="#111" stroke-width="2"/>
</g>
<circle cx="1837" cy="728.5" r="9.9" stroke="none" stroke-width="0" fill="#fff"/>
<circle cx="1837" cy="728.5" r="8.15" stroke="#0a0a0a" stroke-width="3.3" fill="none"/>
<circle cx="1837" cy="728.5" r="4.4" stroke="none" stroke-width="0" fill="#1a1a1a"/>
<line x1="1797.4" y1="722.5" x2="1798.9" y2="741.5" stroke="#1a1a1a" stroke-width="5.4"/>
<line x1="1797.4" y1="722.5" x2="1798.9" y2="741.5" stroke="#fff" stroke-width="3.4"/>
<line x1="1798.9" y1="741.5" x2="1794.9" y2="752.5" stroke="#1a1a1a" stroke-width="5.4"/>
<line x1="1798.9" y1="741.5" x2="1794.9" y2="752.5" stroke="#fff" stroke-width="3.4"/>
<line x1="1840.7" y1="766.9" x2="1817.7" y2="764.4" stroke="#1a1a1a" stroke-width="5.4"/>
<line x1="1840.7" y1="766.9" x2="1817.7" y2="764.4" stroke="#fff" stroke-width="3.4"/>
<line x1="1817.7" y1="764.4" x2="1812.7" y2="760.9" stroke="#1a1a1a" stroke-width="5.4"/>
<line x1="1817.7" y1="764.4" x2="1812.7" y2="760.9" stroke="#fff" stroke-width="3.4"/>
<line x1="1799.7" y1="765.9" x2="1792.7" y2="772.9" stroke="#222" stroke-width="5"/>
<line x1="1799.7" y1="765.9" x2="1792.7" y2="772.9" stroke="#bbb" stroke-width="2.2"/>
<circle cx="1791.4" cy="728.5" r="7.6" stroke="none" stroke-width="0" fill="#fff"/>
<circle cx="1791.4" cy="728.5" r="6.4" stroke="#0a0a0a" stroke-width="2.3" fill="none"/>
<circle cx="1791.4" cy="728.5" r="3" stroke="#111" stroke-width="1.2" fill="none"/>
<circle cx="1804.7" cy="760.9" r="7.6" stroke="none" stroke-width="0" fill="#fff"/>
<circle cx="1804.7" cy="760.9" r="6.4" stroke="#0a0a0a" stroke-width="2.3" fill="none"/>
<circle cx="1804.7" cy="760.9" r="3" stroke="#111" stroke-width="1.2" fill="none"/>
<circle cx="1836.7" cy="773.9" r="7.6" stroke="none" stroke-width="0" fill="#fff"/>
<circle cx="1836.7" cy="773.9" r="6.4" stroke="#0a0a0a" stroke-width="2.3" fill="none"/>
<circle cx="1836.7" cy="773.9" r="3" stroke="#111" stroke-width="1.2" fill="none"/>
<g transform="translate(1837 1085.5) rotate(-135) scale(1 1)">
<path d="M-2,-13.7 L33,-13.7 M0,-12.2 L33,-12.2" stroke="#000" stroke-width="1.2" fill="none"/>
<path d="M2,13.9 L33,13.9 M4,12.3 L33,12.3" stroke="#000" stroke-width="1.2" fill="none"/>
<circle cx="4.5" cy="-1" r="11" stroke="#111" stroke-width="1.1" fill="#fff"/>
<path d="M12,-11 L31,-11 L33,-9 L33,9 L31,11 L12,11" stroke="#000" stroke-width="1.2" fill="none"/>
<path d="M13,-5 L17,-5 M13,5 L17,5" stroke="#000" stroke-width="1.1" fill="none"/>
<rect x="16" y="-10.3" width="12" height="4.5" stroke="none" stroke-width="0" fill="#0a0a0a"/>
<rect x="16" y="5" width="12" height="4.5" stroke="none" stroke-width="0" fill="#0a0a0a"/>
<rect x="14.5" y="-10.3" width="1.2" height="15.3" stroke="none" stroke-width="0" fill="#222"/>
<rect x="17.5" y="-3.6" width="7.6" height="7.2" stroke="#000" stroke-width="1.1" fill="#fff"/>
<line x1="25.1" y1="-3.6" x2="25.1" y2="3.6" stroke="#777" stroke-width="2"/>
<rect x="28.6" y="-9.6" width="2.6" height="3.2" stroke="#000" stroke-width="1" fill="#fff"/>
<rect x="28.6" y="6" width="2.6" height="3.2" stroke="#000" stroke-width="1" fill="#fff"/>
<rect x="26" y="-3" width="4.5" height="6" stroke="#222" stroke-width="1" fill="none"/>
<line x1="32" y1="-8" x2="32" y2="-6" stroke="#111" stroke-width="1.6"/>
<line x1="34.6" y1="-8" x2="34.6" y2="-6" stroke="#222" stroke-width="1.3"/>
<line x1="32" y1="-4.5" x2="32" y2="-2.5" stroke="#111" stroke-width="1.6"/>
<line x1="34.6" y1="-4.5" x2="34.6" y2="-2.5" stroke="#222" stroke-width="1.3"/>
<line x1="32" y1="-1" x2="32" y2="1" stroke="#111" stroke-width="1.6"/>
<line x1="34.6" y1="-1" x2="34.6" y2="1" stroke="#222" stroke-width="1.3"/>
<line x1="32" y1="2.5" x2="32" y2="4.5" stroke="#111" stroke-width="1.6"/>
<line x1="34.6" y1="2.5" x2="34.6" y2="4.5" stroke="#222" stroke-width="1.3"/>
<line x1="32" y1="6" x2="32" y2="8" stroke="#111" stroke-width="1.6"/>
<line x1="34.6" y1="6" x2="34.6" y2="8" stroke="#222" stroke-width="1.3"/>
<path d="M33,-13.7 L36.5,-10 L36.5,9 L33,13.9" stroke="#222" stroke-width="1.1" fill="none"/>
<path d="M21,-13.7 L21,-17.5 Q21,-19 22.5,-19 L31.5,-19 Q33,-19 33,-17.5 L33,-13.7" stroke="#000" stroke-width="1.4" fill="none"/>
<line x1="22.5" y1="-16.5" x2="31.5" y2="-16.5" stroke="#222" stroke-width="0.9"/>
<line x1="17.2" y1="17" x2="17.2" y2="19.5" stroke="#111" stroke-width="2"/>
</g>
<circle cx="1837" cy="1085.5" r="9.9" stroke="none" stroke-width="0" fill="#fff"/>
<circle cx="1837" cy="1085.5" r="8.15" stroke="#0a0a0a" stroke-width="3.3" fill="none"/>
<circle cx="1837" cy="1085.5" r="4.4" stroke="none" stroke-width="0" fill="#1a1a1a"/>
<line x1="1797.4" y1="1091.5" x2="1798.9" y2="1072.5" stroke="#1a1a1a" stroke-width="5.4"/>
<line x1="1797.4" y1="1091.5" x2="1798.9" y2="1072.5" stroke="#fff" stroke-width="3.4"/>
<line x1="1798.9" y1="1072.5" x2="1794.9" y2="1061.5" stroke="#1a1a1a" stroke-width="5.4"/>
<line x1="1798.9" y1="1072.5" x2="1794.9" y2="1061.5" stroke="#fff" stroke-width="3.4"/>
<line x1="1840.7" y1="1047.1" x2="1817.7" y2="1049.6" stroke="#1a1a1a" stroke-width="5.4"/>
<line x1="1840.7" y1="1047.1" x2="1817.7" y2="1049.6" stroke="#fff" stroke-width="3.4"/>
<line x1="1817.7" y1="1049.6" x2="1812.7" y2="1053.1" stroke="#1a1a1a" stroke-width="5.4"/>
<line x1="1817.7" y1="1049.6" x2="1812.7" y2="1053.1" stroke="#fff" stroke-width="3.4"/>
<line x1="1799.7" y1="1048.1" x2="1792.7" y2="1041.1" stroke="#222" stroke-width="5"/>
<line x1="1799.7" y1="1048.1" x2="1792.7" y2="1041.1" stroke="#bbb" stroke-width="2.2"/>
<circle cx="1791.4" cy="1085.5" r="7.6" stroke="none" stroke-width="0" fill="#fff"/>
<circle cx="1791.4" cy="1085.5" r="6.4" stroke="#0a0a0a" stroke-width="2.3" fill="none"/>
<circle cx="1791.4" cy="1085.5" r="3" stroke="#111" stroke-width="1.2" fill="none"/>
<circle cx="1804.7" cy="1053.1" r="7.6" stroke="none" stroke-width="0" fill="#fff"/>
<circle cx="1804.7" cy="1053.1" r="6.4" stroke="#0a0a0a" stroke-width="2.3" fill="none"/>
<circle cx="1804.7" cy="1053.1" r="3" stroke="#111" stroke-width="1.2" fill="none"/>
<circle cx="1836.7" cy="1040.1" r="7.6" stroke="none" stroke-width="0" fill="#fff"/>
<circle cx="1836.7" cy="1040.1" r="6.4" stroke="#0a0a0a" stroke-width="2.3" fill="none"/>
<circle cx="1836.7" cy="1040.1" r="3" stroke="#111" stroke-width="1.2" fill="none"/>
<g transform="translate(1671.25 726.9) rotate(0)">
<path d="M-6.3,-7 L-6.3,1 A6.3,6.3 0 0 0 6.3,1 L6.3,-7" stroke="#111" stroke-width="2" fill="none"/>
<path d="M-3.2,-7 L-3.2,1 A3.2,3.2 0 0 0 3.2,1 L3.2,-7" stroke="#222" stroke-width="1.1" fill="none"/>
</g>
<g transform="translate(1646.25 1087.1) rotate(180)">
<path d="M-6.3,-7 L-6.3,1 A6.3,6.3 0 0 0 6.3,1 L6.3,-7" stroke="#111" stroke-width="2" fill="none"/>
<path d="M-3.2,-7 L-3.2,1 A3.2,3.2 0 0 0 3.2,1 L3.2,-7" stroke="#222" stroke-width="1.1" fill="none"/>
</g>
<g transform="translate(1478.4 893.75) rotate(-90)">
<path d="M-6.3,-7 L-6.3,1 A6.3,6.3 0 0 0 6.3,1 L6.3,-7" stroke="#111" stroke-width="2" fill="none"/>
<path d="M-3.2,-7 L-3.2,1 A3.2,3.2 0 0 0 3.2,1 L3.2,-7" stroke="#222" stroke-width="1.1" fill="none"/>
</g>
<g transform="translate(1838.6 920) rotate(90)">
<path d="M-6.3,-7 L-6.3,1 A6.3,6.3 0 0 0 6.3,1 L6.3,-7" stroke="#111" stroke-width="2" fill="none"/>
<path d="M-3.2,-7 L-3.2,1 A3.2,3.2 0 0 0 3.2,1 L3.2,-7" stroke="#222" stroke-width="1.1" fill="none"/>
</g>
<line x1="1429.5" y1="775.5" x2="1490" y2="775.5" stroke="#000" stroke-width="1"/>
<line x1="1429.5" y1="1038" x2="1640" y2="1038" stroke="#000" stroke-width="1"/>
<line x1="1480.5" y1="777.2" x2="1658" y2="777.2" stroke="#000" stroke-width="1.1" stroke-dasharray="26 3 5 3"/>
<line x1="1433.75" y1="775.5" x2="1433.75" y2="1038" stroke="#444" stroke-width="1"/>
<polygon points="1433.75,775.5 1435.45,786.5 1432.05,786.5" fill="#444"/>
<polygon points="1433.75,1038 1432.05,1027 1435.45,1027" fill="#444"/>
<text transform="translate(1432.5 917) rotate(-90) scale(0.8 1)" font-size="13.27" textLength="22.81" lengthAdjust="spacing" stroke="#fff" stroke-width="0.22" fill="#555">202</text>
<line x1="1761.25" y1="781.25" x2="1898" y2="781.25" stroke="#000" stroke-width="1"/>
<line x1="1661" y1="982" x2="1898" y2="982" stroke="#000" stroke-width="1"/>
<line x1="1892.5" y1="781.25" x2="1892.5" y2="982" stroke="#000" stroke-width="1"/>
<polygon points="1892.5,781.25 1894.2,792.25 1890.8,792.25" fill="#000"/>
<polygon points="1892.5,982 1890.8,971 1894.2,971" fill="#000"/>
<text transform="translate(1891.25 890) rotate(-90) scale(0.8 1)" font-size="12.92" textLength="20.31" lengthAdjust="spacing" stroke="#fff" stroke-width="0.22" fill="#444">155</text>
<line x1="1806.25" y1="781.25" x2="1806.25" y2="982" stroke="#000" stroke-width="1"/>
<line x1="1828" y1="781.25" x2="1828" y2="1033" stroke="#000" stroke-width="1"/>
<line x1="1761" y1="1033" x2="1828" y2="1033" stroke="#000" stroke-width="1"/>
<line x1="1605.5" y1="1007.5" x2="1605.5" y2="1145.75" stroke="#000" stroke-width="1"/>
<line x1="1712.5" y1="1000" x2="1712.5" y2="1145.75" stroke="#000" stroke-width="1"/>
<line x1="1605.5" y1="1141" x2="1712.5" y2="1141" stroke="#555" stroke-width="1"/>
<polygon points="1605.5,1141 1616.5,1139.3 1616.5,1142.7" fill="#555"/>
<polygon points="1712.5,1141 1701.5,1142.7 1701.5,1139.3" fill="#555"/>
<text transform="translate(1618.75 1139.5) scale(0.8 1)" font-size="12.57" textLength="28.12" lengthAdjust="spacing" stroke="#fff" stroke-width="0.22" fill="#444">82.5</text>
<text transform="translate(1633.75 847.5) rotate(180)" font-size="9.78" textLength="25" lengthAdjust="spacingAndGlyphs" font-weight="bold" fill="#111">7,64-</text>
<text transform="translate(1633.75 860) rotate(180)" font-size="9.78" textLength="15" lengthAdjust="spacingAndGlyphs" font-weight="bold" fill="#111">194</text>
<text transform="translate(1830.5 873.75) rotate(90)" font-size="9.78" textLength="16" lengthAdjust="spacingAndGlyphs" font-weight="bold" fill="#111">194</text>
<text transform="translate(1817.8 873.75) rotate(90)" font-size="9.78" textLength="25.5" lengthAdjust="spacingAndGlyphs" font-weight="bold" fill="#111">7,84-</text>
<text transform="translate(1808 916) rotate(90)" font-size="9.78" textLength="16" lengthAdjust="spacingAndGlyphs" font-weight="bold" fill="#111">155</text>
<text transform="translate(1796.3 916) rotate(90)" font-size="9.78" textLength="21" lengthAdjust="spacingAndGlyphs" font-weight="bold" fill="#111">6,10-</text>
<line x1="1480.5" y1="599.5" x2="1480.5" y2="775" stroke="#000" stroke-width="1.2" stroke-dasharray="7 2 2 2"/>
<line x1="1658.6" y1="1095" x2="1658.6" y2="1166.25" stroke="#000" stroke-width="1.2" stroke-dasharray="7 2 2 2"/>
</svg>
</body></html>
